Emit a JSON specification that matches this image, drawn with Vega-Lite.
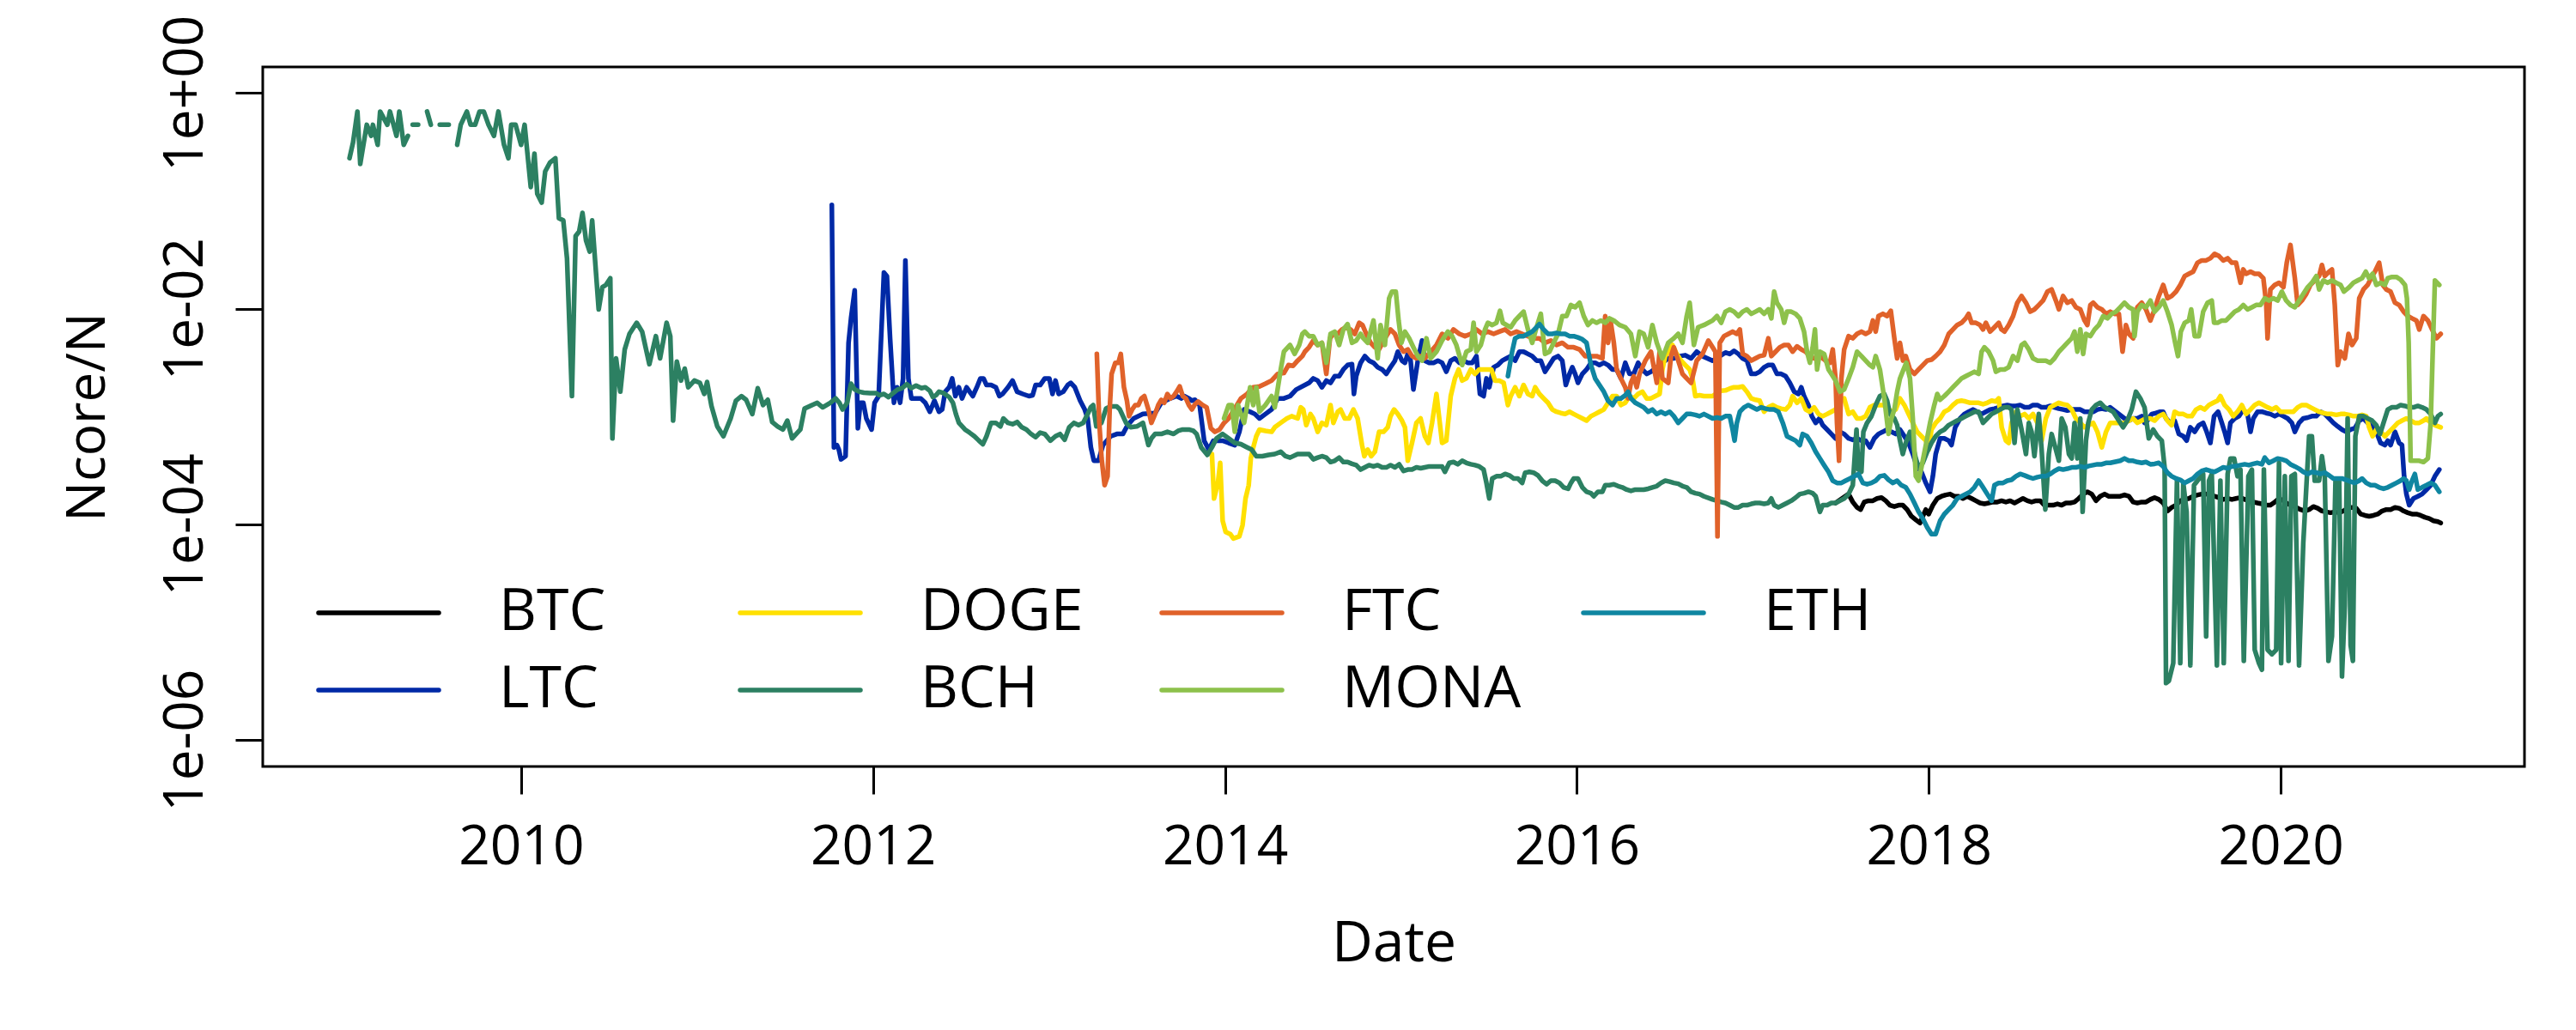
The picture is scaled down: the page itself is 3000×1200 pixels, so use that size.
{
"$schema":"https://vega.github.io/schema/vega-lite/v6.json",
"width":2634,"height":815,
"autosize":{"type":"none"},
"padding":{"left":306,"top":78,"right":60,"bottom":307},
"background":"white",
"config":{
"view":{"stroke":"black","strokeWidth":3},
"font":"Open Sans",
"axis":{"grid":false,"domain":false,"ticks":true,"tickColor":"black","tickWidth":3,"tickSize":32,"labelColor":"black","labelFont":"Open Sans","labelFontSize":64,"labelLimit":0,"titleFont":"Open Sans","titleFontSize":66,"titleFontWeight":"normal","titleColor":"black"}
},
"data":{"values":[
{"coin":"BTC","t":2017.470,"v":-3.802},{"coin":"BTC","t":2017.544,"v":-3.719},{"coin":"BTC","t":2017.568,"v":-3.793},{"coin":"BTC","t":2017.592,"v":-3.843},{"coin":"BTC","t":2017.612,"v":-3.863},{"coin":"BTC","t":2017.633,"v":-3.793},{"coin":"BTC","t":2017.657,"v":-3.781},{"coin":"BTC","t":2017.682,"v":-3.781},{"coin":"BTC","t":2017.706,"v":-3.760},{"coin":"BTC","t":2017.731,"v":-3.752},{"coin":"BTC","t":2017.755,"v":-3.781},{"coin":"BTC","t":2017.779,"v":-3.822},{"coin":"BTC","t":2017.804,"v":-3.835},{"coin":"BTC","t":2017.828,"v":-3.822},{"coin":"BTC","t":2017.852,"v":-3.822},{"coin":"BTC","t":2017.877,"v":-3.863},{"coin":"BTC","t":2017.901,"v":-3.925},{"coin":"BTC","t":2017.926,"v":-3.958},{"coin":"BTC","t":2017.950,"v":-3.987},{"coin":"BTC","t":2017.966,"v":-3.925},{"coin":"BTC","t":2017.983,"v":-3.863},{"coin":"BTC","t":2017.999,"v":-3.905},{"coin":"BTC","t":2018.023,"v":-3.822},{"coin":"BTC","t":2018.048,"v":-3.760},{"coin":"BTC","t":2018.072,"v":-3.740},{"coin":"BTC","t":2018.096,"v":-3.727},{"coin":"BTC","t":2018.121,"v":-3.719},{"coin":"BTC","t":2018.145,"v":-3.740},{"coin":"BTC","t":2018.170,"v":-3.740},{"coin":"BTC","t":2018.194,"v":-3.760},{"coin":"BTC","t":2018.218,"v":-3.740},{"coin":"BTC","t":2018.243,"v":-3.760},{"coin":"BTC","t":2018.267,"v":-3.781},{"coin":"BTC","t":2018.291,"v":-3.802},{"coin":"BTC","t":2018.316,"v":-3.810},{"coin":"BTC","t":2018.340,"v":-3.802},{"coin":"BTC","t":2018.365,"v":-3.793},{"coin":"BTC","t":2018.389,"v":-3.793},{"coin":"BTC","t":2018.413,"v":-3.781},{"coin":"BTC","t":2018.438,"v":-3.793},{"coin":"BTC","t":2018.462,"v":-3.781},{"coin":"BTC","t":2018.487,"v":-3.802},{"coin":"BTC","t":2018.511,"v":-3.781},{"coin":"BTC","t":2018.535,"v":-3.760},{"coin":"BTC","t":2018.560,"v":-3.781},{"coin":"BTC","t":2018.584,"v":-3.793},{"coin":"BTC","t":2018.609,"v":-3.781},{"coin":"BTC","t":2018.633,"v":-3.781},{"coin":"BTC","t":2018.657,"v":-3.822},{"coin":"BTC","t":2018.682,"v":-3.822},{"coin":"BTC","t":2018.706,"v":-3.822},{"coin":"BTC","t":2018.731,"v":-3.810},{"coin":"BTC","t":2018.755,"v":-3.822},{"coin":"BTC","t":2018.779,"v":-3.802},{"coin":"BTC","t":2018.804,"v":-3.802},{"coin":"BTC","t":2018.828,"v":-3.793},{"coin":"BTC","t":2018.852,"v":-3.760},{"coin":"BTC","t":2018.877,"v":-3.719},{"coin":"BTC","t":2018.901,"v":-3.698},{"coin":"BTC","t":2018.926,"v":-3.719},{"coin":"BTC","t":2018.950,"v":-3.781},{"coin":"BTC","t":2018.974,"v":-3.740},{"coin":"BTC","t":2018.999,"v":-3.719},{"coin":"BTC","t":2019.023,"v":-3.740},{"coin":"BTC","t":2019.088,"v":-3.740},{"coin":"BTC","t":2019.112,"v":-3.727},{"coin":"BTC","t":2019.137,"v":-3.740},{"coin":"BTC","t":2019.161,"v":-3.793},{"coin":"BTC","t":2019.185,"v":-3.802},{"coin":"BTC","t":2019.210,"v":-3.793},{"coin":"BTC","t":2019.234,"v":-3.793},{"coin":"BTC","t":2019.259,"v":-3.769},{"coin":"BTC","t":2019.283,"v":-3.752},{"coin":"BTC","t":2019.307,"v":-3.769},{"coin":"BTC","t":2019.332,"v":-3.802},{"coin":"BTC","t":2019.356,"v":-3.876},{"coin":"BTC","t":2019.380,"v":-3.843},{"coin":"BTC","t":2019.405,"v":-3.822},{"coin":"BTC","t":2019.429,"v":-3.781},{"coin":"BTC","t":2019.454,"v":-3.769},{"coin":"BTC","t":2019.478,"v":-3.760},{"coin":"BTC","t":2019.502,"v":-3.740},{"coin":"BTC","t":2019.527,"v":-3.727},{"coin":"BTC","t":2019.551,"v":-3.719},{"coin":"BTC","t":2019.576,"v":-3.719},{"coin":"BTC","t":2019.600,"v":-3.727},{"coin":"BTC","t":2019.624,"v":-3.740},{"coin":"BTC","t":2019.649,"v":-3.752},{"coin":"BTC","t":2019.673,"v":-3.769},{"coin":"BTC","t":2019.698,"v":-3.760},{"coin":"BTC","t":2019.722,"v":-3.769},{"coin":"BTC","t":2019.746,"v":-3.760},{"coin":"BTC","t":2019.771,"v":-3.752},{"coin":"BTC","t":2019.795,"v":-3.769},{"coin":"BTC","t":2019.819,"v":-3.781},{"coin":"BTC","t":2019.844,"v":-3.793},{"coin":"BTC","t":2019.868,"v":-3.802},{"coin":"BTC","t":2019.893,"v":-3.810},{"coin":"BTC","t":2019.917,"v":-3.822},{"coin":"BTC","t":2019.941,"v":-3.822},{"coin":"BTC","t":2019.966,"v":-3.793},{"coin":"BTC","t":2019.990,"v":-3.760},{"coin":"BTC","t":2020.015,"v":-3.781},{"coin":"BTC","t":2020.039,"v":-3.810},{"coin":"BTC","t":2020.063,"v":-3.822},{"coin":"BTC","t":2020.088,"v":-3.843},{"coin":"BTC","t":2020.112,"v":-3.863},{"coin":"BTC","t":2020.137,"v":-3.876},{"coin":"BTC","t":2020.161,"v":-3.863},{"coin":"BTC","t":2020.185,"v":-3.835},{"coin":"BTC","t":2020.210,"v":-3.851},{"coin":"BTC","t":2020.234,"v":-3.876},{"coin":"BTC","t":2020.259,"v":-3.884},{"coin":"BTC","t":2020.283,"v":-3.892},{"coin":"BTC","t":2020.307,"v":-3.884},{"coin":"BTC","t":2020.332,"v":-3.892},{"coin":"BTC","t":2020.356,"v":-3.876},{"coin":"BTC","t":2020.380,"v":-3.851},{"coin":"BTC","t":2020.405,"v":-3.843},{"coin":"BTC","t":2020.429,"v":-3.851},{"coin":"BTC","t":2020.454,"v":-3.905},{"coin":"BTC","t":2020.478,"v":-3.917},{"coin":"BTC","t":2020.502,"v":-3.925},{"coin":"BTC","t":2020.527,"v":-3.917},{"coin":"BTC","t":2020.551,"v":-3.905},{"coin":"BTC","t":2020.576,"v":-3.876},{"coin":"BTC","t":2020.600,"v":-3.863},{"coin":"BTC","t":2020.624,"v":-3.863},{"coin":"BTC","t":2020.649,"v":-3.843},{"coin":"BTC","t":2020.673,"v":-3.851},{"coin":"BTC","t":2020.698,"v":-3.876},{"coin":"BTC","t":2020.722,"v":-3.892},{"coin":"BTC","t":2020.746,"v":-3.905},{"coin":"BTC","t":2020.771,"v":-3.905},{"coin":"BTC","t":2020.795,"v":-3.917},{"coin":"BTC","t":2020.819,"v":-3.934},{"coin":"BTC","t":2020.844,"v":-3.946},{"coin":"BTC","t":2020.868,"v":-3.967},{"coin":"BTC","t":2020.893,"v":-3.975},{"coin":"BTC","t":2020.909,"v":-3.987},
{"coin":"LTC","t":2011.766,"v":-1.038},{"coin":"LTC","t":2011.778,"v":-3.286},{"coin":"LTC","t":2011.795,"v":-3.265},{"coin":"LTC","t":2011.806,"v":-3.307},{"coin":"LTC","t":2011.818,"v":-3.397},{"coin":"LTC","t":2011.844,"v":-3.368},{"coin":"LTC","t":2011.861,"v":-2.317},{"coin":"LTC","t":2011.875,"v":-2.090},{"coin":"LTC","t":2011.896,"v":-1.830},{"coin":"LTC","t":2011.914,"v":-3.109},{"coin":"LTC","t":2011.928,"v":-2.873},{"coin":"LTC","t":2011.945,"v":-2.873},{"coin":"LTC","t":2011.962,"v":-3.018},{"coin":"LTC","t":2011.992,"v":-3.121},{"coin":"LTC","t":2012.009,"v":-2.873},{"coin":"LTC","t":2012.032,"v":-2.811},{"coin":"LTC","t":2012.062,"v":-1.665},{"coin":"LTC","t":2012.079,"v":-1.698},{"coin":"LTC","t":2012.097,"v":-2.275},{"coin":"LTC","t":2012.119,"v":-2.873},{"coin":"LTC","t":2012.137,"v":-2.729},{"coin":"LTC","t":2012.154,"v":-2.873},{"coin":"LTC","t":2012.171,"v":-2.647},{"coin":"LTC","t":2012.184,"v":-1.553},{"coin":"LTC","t":2012.201,"v":-2.647},{"coin":"LTC","t":2012.218,"v":-2.832},{"coin":"LTC","t":2012.245,"v":-2.832},{"coin":"LTC","t":2012.271,"v":-2.832},{"coin":"LTC","t":2012.297,"v":-2.873},{"coin":"LTC","t":2012.323,"v":-2.956},{"coin":"LTC","t":2012.349,"v":-2.853},{"coin":"LTC","t":2012.375,"v":-2.956},{"coin":"LTC","t":2012.393,"v":-2.935},{"coin":"LTC","t":2012.410,"v":-2.770},{"coin":"LTC","t":2012.433,"v":-2.729},{"coin":"LTC","t":2012.450,"v":-2.647},{"coin":"LTC","t":2012.468,"v":-2.811},{"coin":"LTC","t":2012.488,"v":-2.729},{"coin":"LTC","t":2012.506,"v":-2.832},{"coin":"LTC","t":2012.532,"v":-2.729},{"coin":"LTC","t":2012.549,"v":-2.770},{"coin":"LTC","t":2012.567,"v":-2.811},{"coin":"LTC","t":2012.590,"v":-2.729},{"coin":"LTC","t":2012.610,"v":-2.647},{"coin":"LTC","t":2012.628,"v":-2.647},{"coin":"LTC","t":2012.645,"v":-2.708},{"coin":"LTC","t":2012.671,"v":-2.708},{"coin":"LTC","t":2012.698,"v":-2.729},{"coin":"LTC","t":2012.718,"v":-2.811},{"coin":"LTC","t":2012.736,"v":-2.791},{"coin":"LTC","t":2012.767,"v":-2.729},{"coin":"LTC","t":2012.793,"v":-2.667},{"coin":"LTC","t":2012.819,"v":-2.770},{"coin":"LTC","t":2012.851,"v":-2.791},{"coin":"LTC","t":2012.886,"v":-2.811},{"coin":"LTC","t":2012.907,"v":-2.803},{"coin":"LTC","t":2012.924,"v":-2.708},{"coin":"LTC","t":2012.950,"v":-2.708},{"coin":"LTC","t":2012.976,"v":-2.647},{"coin":"LTC","t":2013.002,"v":-2.647},{"coin":"LTC","t":2013.020,"v":-2.791},{"coin":"LTC","t":2013.037,"v":-2.667},{"coin":"LTC","t":2013.055,"v":-2.791},{"coin":"LTC","t":2013.081,"v":-2.770},{"coin":"LTC","t":2013.107,"v":-2.708},{"coin":"LTC","t":2013.124,"v":-2.688},{"coin":"LTC","t":2013.147,"v":-2.729},{"coin":"LTC","t":2013.177,"v":-2.853},{"coin":"LTC","t":2013.203,"v":-2.935},{"coin":"LTC","t":2013.220,"v":-3.018},{"coin":"LTC","t":2013.238,"v":-3.286},{"coin":"LTC","t":2013.255,"v":-3.410},{"coin":"LTC","t":2013.281,"v":-3.410},{"coin":"LTC","t":2013.307,"v":-3.265},{"coin":"LTC","t":2013.351,"v":-3.183},{"coin":"LTC","t":2013.386,"v":-3.162},{"coin":"LTC","t":2013.420,"v":-3.162},{"coin":"LTC","t":2013.447,"v":-3.080},{"coin":"LTC","t":2013.481,"v":-3.018},{"coin":"LTC","t":2013.534,"v":-2.977},{"coin":"LTC","t":2013.603,"v":-2.968},{"coin":"LTC","t":2013.638,"v":-2.873},{"coin":"LTC","t":2013.690,"v":-2.832},{"coin":"LTC","t":2013.725,"v":-2.811},{"coin":"LTC","t":2013.751,"v":-2.832},{"coin":"LTC","t":2013.769,"v":-2.811},{"coin":"LTC","t":2013.795,"v":-2.832},{"coin":"LTC","t":2013.812,"v":-2.853},{"coin":"LTC","t":2013.830,"v":-2.845},{"coin":"LTC","t":2013.856,"v":-2.894},{"coin":"LTC","t":2013.882,"v":-3.224},{"coin":"LTC","t":2013.908,"v":-3.307},{"coin":"LTC","t":2013.934,"v":-3.224},{"coin":"LTC","t":2013.960,"v":-3.224},{"coin":"LTC","t":2013.987,"v":-3.224},{"coin":"LTC","t":2014.021,"v":-3.245},{"coin":"LTC","t":2014.056,"v":-3.265},{"coin":"LTC","t":2014.082,"v":-3.142},{"coin":"LTC","t":2014.109,"v":-2.935},{"coin":"LTC","t":2014.143,"v":-2.956},{"coin":"LTC","t":2014.170,"v":-2.977},{"coin":"LTC","t":2014.196,"v":-3.018},{"coin":"LTC","t":2014.230,"v":-2.977},{"coin":"LTC","t":2014.265,"v":-2.935},{"coin":"LTC","t":2014.300,"v":-2.832},{"coin":"LTC","t":2014.335,"v":-2.832},{"coin":"LTC","t":2014.370,"v":-2.811},{"coin":"LTC","t":2014.405,"v":-2.750},{"coin":"LTC","t":2014.478,"v":-2.688},{"coin":"LTC","t":2014.502,"v":-2.647},{"coin":"LTC","t":2014.527,"v":-2.667},{"coin":"LTC","t":2014.551,"v":-2.729},{"coin":"LTC","t":2014.576,"v":-2.667},{"coin":"LTC","t":2014.600,"v":-2.688},{"coin":"LTC","t":2014.624,"v":-2.626},{"coin":"LTC","t":2014.649,"v":-2.626},{"coin":"LTC","t":2014.673,"v":-2.564},{"coin":"LTC","t":2014.697,"v":-2.523},{"coin":"LTC","t":2014.722,"v":-2.515},{"coin":"LTC","t":2014.733,"v":-2.791},{"coin":"LTC","t":2014.746,"v":-2.626},{"coin":"LTC","t":2014.771,"v":-2.502},{"coin":"LTC","t":2014.795,"v":-2.440},{"coin":"LTC","t":2014.819,"v":-2.482},{"coin":"LTC","t":2014.844,"v":-2.502},{"coin":"LTC","t":2014.868,"v":-2.543},{"coin":"LTC","t":2014.893,"v":-2.564},{"coin":"LTC","t":2014.917,"v":-2.605},{"coin":"LTC","t":2014.941,"v":-2.543},{"coin":"LTC","t":2014.966,"v":-2.482},{"coin":"LTC","t":2014.982,"v":-2.399},{"coin":"LTC","t":2015.006,"v":-2.482},{"coin":"LTC","t":2015.023,"v":-2.502},{"coin":"LTC","t":2015.039,"v":-2.420},{"coin":"LTC","t":2015.055,"v":-2.482},{"coin":"LTC","t":2015.071,"v":-2.750},{"coin":"LTC","t":2015.096,"v":-2.482},{"coin":"LTC","t":2015.120,"v":-2.296},{"coin":"LTC","t":2015.136,"v":-2.482},{"coin":"LTC","t":2015.161,"v":-2.502},{"coin":"LTC","t":2015.185,"v":-2.502},{"coin":"LTC","t":2015.210,"v":-2.482},{"coin":"LTC","t":2015.234,"v":-2.502},{"coin":"LTC","t":2015.258,"v":-2.585},{"coin":"LTC","t":2015.283,"v":-2.482},{"coin":"LTC","t":2015.307,"v":-2.461},{"coin":"LTC","t":2015.332,"v":-2.502},{"coin":"LTC","t":2015.356,"v":-2.482},{"coin":"LTC","t":2015.380,"v":-2.502},{"coin":"LTC","t":2015.405,"v":-2.502},{"coin":"LTC","t":2015.429,"v":-2.440},{"coin":"LTC","t":2015.449,"v":-2.791},{"coin":"LTC","t":2015.470,"v":-2.811},{"coin":"LTC","t":2015.486,"v":-2.647},{"coin":"LTC","t":2015.502,"v":-2.729},{"coin":"LTC","t":2015.527,"v":-2.543},{"coin":"LTC","t":2015.551,"v":-2.523},{"coin":"LTC","t":2015.576,"v":-2.482},{"coin":"LTC","t":2015.600,"v":-2.461},{"coin":"LTC","t":2015.624,"v":-2.440},{"coin":"LTC","t":2015.649,"v":-2.482},{"coin":"LTC","t":2015.673,"v":-2.399},{"coin":"LTC","t":2015.697,"v":-2.399},{"coin":"LTC","t":2015.722,"v":-2.420},{"coin":"LTC","t":2015.746,"v":-2.440},{"coin":"LTC","t":2015.771,"v":-2.482},{"coin":"LTC","t":2015.795,"v":-2.482},{"coin":"LTC","t":2015.819,"v":-2.585},{"coin":"LTC","t":2015.844,"v":-2.523},{"coin":"LTC","t":2015.868,"v":-2.461},{"coin":"LTC","t":2015.893,"v":-2.440},{"coin":"LTC","t":2015.917,"v":-2.482},{"coin":"LTC","t":2015.937,"v":-2.708},{"coin":"LTC","t":2015.958,"v":-2.605},{"coin":"LTC","t":2015.974,"v":-2.543},{"coin":"LTC","t":2015.990,"v":-2.605},{"coin":"LTC","t":2016.006,"v":-2.688},{"coin":"LTC","t":2016.031,"v":-2.605},{"coin":"LTC","t":2016.055,"v":-2.564},{"coin":"LTC","t":2016.080,"v":-2.502},{"coin":"LTC","t":2016.104,"v":-2.502},{"coin":"LTC","t":2016.128,"v":-2.523},{"coin":"LTC","t":2016.153,"v":-2.502},{"coin":"LTC","t":2016.177,"v":-2.523},{"coin":"LTC","t":2016.202,"v":-2.564},{"coin":"LTC","t":2016.226,"v":-2.564},{"coin":"LTC","t":2016.250,"v":-2.647},{"coin":"LTC","t":2016.275,"v":-2.502},{"coin":"LTC","t":2016.299,"v":-2.605},{"coin":"LTC","t":2016.323,"v":-2.605},{"coin":"LTC","t":2016.348,"v":-2.502},{"coin":"LTC","t":2016.372,"v":-2.564},{"coin":"LTC","t":2016.397,"v":-2.605},{"coin":"LTC","t":2016.421,"v":-2.585},{"coin":"LTC","t":2016.454,"v":-2.543},{"coin":"LTC","t":2016.486,"v":-2.502},{"coin":"LTC","t":2016.519,"v":-2.461},{"coin":"LTC","t":2016.551,"v":-2.461},{"coin":"LTC","t":2016.584,"v":-2.440},{"coin":"LTC","t":2016.616,"v":-2.432},{"coin":"LTC","t":2016.649,"v":-2.461},{"coin":"LTC","t":2016.681,"v":-2.399},{"coin":"LTC","t":2016.714,"v":-2.440},{"coin":"LTC","t":2016.771,"v":-2.482},{"coin":"LTC","t":2016.796,"v":-2.461},{"coin":"LTC","t":2016.820,"v":-2.432},{"coin":"LTC","t":2016.844,"v":-2.407},{"coin":"LTC","t":2016.869,"v":-2.420},{"coin":"LTC","t":2016.893,"v":-2.391},{"coin":"LTC","t":2016.918,"v":-2.420},{"coin":"LTC","t":2016.942,"v":-2.461},{"coin":"LTC","t":2016.966,"v":-2.482},{"coin":"LTC","t":2016.991,"v":-2.605},{"coin":"LTC","t":2017.015,"v":-2.605},{"coin":"LTC","t":2017.039,"v":-2.585},{"coin":"LTC","t":2017.064,"v":-2.543},{"coin":"LTC","t":2017.088,"v":-2.523},{"coin":"LTC","t":2017.113,"v":-2.523},{"coin":"LTC","t":2017.137,"v":-2.605},{"coin":"LTC","t":2017.161,"v":-2.605},{"coin":"LTC","t":2017.186,"v":-2.626},{"coin":"LTC","t":2017.210,"v":-2.688},{"coin":"LTC","t":2017.235,"v":-2.770},{"coin":"LTC","t":2017.259,"v":-2.791},{"coin":"LTC","t":2017.275,"v":-2.729},{"coin":"LTC","t":2017.291,"v":-2.811},{"coin":"LTC","t":2017.316,"v":-2.894},{"coin":"LTC","t":2017.335,"v":-2.997},{"coin":"LTC","t":2017.357,"v":-3.059},{"coin":"LTC","t":2017.378,"v":-3.018},{"coin":"LTC","t":2017.397,"v":-3.080},{"coin":"LTC","t":2017.422,"v":-3.121},{"coin":"LTC","t":2017.446,"v":-3.162},{"coin":"LTC","t":2017.470,"v":-3.203},{"coin":"LTC","t":2017.495,"v":-3.142},{"coin":"LTC","t":2017.519,"v":-3.162},{"coin":"LTC","t":2017.544,"v":-3.203},{"coin":"LTC","t":2017.568,"v":-3.216},{"coin":"LTC","t":2017.592,"v":-3.203},{"coin":"LTC","t":2017.617,"v":-3.224},{"coin":"LTC","t":2017.641,"v":-3.224},{"coin":"LTC","t":2017.665,"v":-3.286},{"coin":"LTC","t":2017.690,"v":-3.203},{"coin":"LTC","t":2017.714,"v":-3.162},{"coin":"LTC","t":2017.739,"v":-3.142},{"coin":"LTC","t":2017.763,"v":-3.121},{"coin":"LTC","t":2017.787,"v":-3.142},{"coin":"LTC","t":2017.812,"v":-3.162},{"coin":"LTC","t":2017.836,"v":-3.121},{"coin":"LTC","t":2017.861,"v":-3.183},{"coin":"LTC","t":2017.885,"v":-3.245},{"coin":"LTC","t":2017.909,"v":-3.348},{"coin":"LTC","t":2017.934,"v":-3.472},{"coin":"LTC","t":2017.958,"v":-3.513},{"coin":"LTC","t":2017.983,"v":-3.616},{"coin":"LTC","t":2018.007,"v":-3.698},{"coin":"LTC","t":2018.023,"v":-3.554},{"coin":"LTC","t":2018.039,"v":-3.348},{"coin":"LTC","t":2018.064,"v":-3.203},{"coin":"LTC","t":2018.088,"v":-3.203},{"coin":"LTC","t":2018.113,"v":-3.224},{"coin":"LTC","t":2018.129,"v":-3.265},{"coin":"LTC","t":2018.150,"v":-3.100},{"coin":"LTC","t":2018.178,"v":-3.018},{"coin":"LTC","t":2018.202,"v":-2.977},{"coin":"LTC","t":2018.226,"v":-2.956},{"coin":"LTC","t":2018.251,"v":-2.935},{"coin":"LTC","t":2018.275,"v":-2.956},{"coin":"LTC","t":2018.300,"v":-2.977},{"coin":"LTC","t":2018.324,"v":-2.956},{"coin":"LTC","t":2018.348,"v":-2.935},{"coin":"LTC","t":2018.373,"v":-2.927},{"coin":"LTC","t":2018.397,"v":-2.915},{"coin":"LTC","t":2018.422,"v":-2.902},{"coin":"LTC","t":2018.446,"v":-2.894},{"coin":"LTC","t":2018.470,"v":-2.902},{"coin":"LTC","t":2018.495,"v":-2.902},{"coin":"LTC","t":2018.519,"v":-2.894},{"coin":"LTC","t":2018.544,"v":-2.915},{"coin":"LTC","t":2018.568,"v":-2.915},{"coin":"LTC","t":2018.592,"v":-2.894},{"coin":"LTC","t":2018.617,"v":-2.894},{"coin":"LTC","t":2018.641,"v":-2.915},{"coin":"LTC","t":2018.665,"v":-2.915},{"coin":"LTC","t":2018.690,"v":-2.902},{"coin":"LTC","t":2018.714,"v":-2.915},{"coin":"LTC","t":2018.739,"v":-2.927},{"coin":"LTC","t":2018.763,"v":-2.935},{"coin":"LTC","t":2018.787,"v":-2.944},{"coin":"LTC","t":2018.812,"v":-2.935},{"coin":"LTC","t":2018.836,"v":-2.935},{"coin":"LTC","t":2018.861,"v":-2.935},{"coin":"LTC","t":2018.885,"v":-2.956},{"coin":"LTC","t":2018.909,"v":-2.956},{"coin":"LTC","t":2018.934,"v":-2.956},{"coin":"LTC","t":2018.958,"v":-2.935},{"coin":"LTC","t":2018.983,"v":-2.927},{"coin":"LTC","t":2019.007,"v":-2.935},{"coin":"LTC","t":2019.031,"v":-2.915},{"coin":"LTC","t":2019.112,"v":-3.018},{"coin":"LTC","t":2019.137,"v":-3.038},{"coin":"LTC","t":2019.161,"v":-3.018},{"coin":"LTC","t":2019.185,"v":-3.018},{"coin":"LTC","t":2019.210,"v":-2.997},{"coin":"LTC","t":2019.226,"v":-3.059},{"coin":"LTC","t":2019.242,"v":-3.038},{"coin":"LTC","t":2019.267,"v":-2.977},{"coin":"LTC","t":2019.291,"v":-2.968},{"coin":"LTC","t":2019.315,"v":-2.956},{"coin":"LTC","t":2019.332,"v":-2.956},{"coin":"LTC","t":2019.348,"v":-3.018},{"coin":"LTC","t":2019.372,"v":-3.059},{"coin":"LTC","t":2019.397,"v":-3.038},{"coin":"LTC","t":2019.421,"v":-3.162},{"coin":"LTC","t":2019.446,"v":-3.183},{"coin":"LTC","t":2019.465,"v":-3.224},{"coin":"LTC","t":2019.486,"v":-3.100},{"coin":"LTC","t":2019.511,"v":-3.142},{"coin":"LTC","t":2019.535,"v":-3.080},{"coin":"LTC","t":2019.559,"v":-3.059},{"coin":"LTC","t":2019.579,"v":-3.142},{"coin":"LTC","t":2019.600,"v":-3.245},{"coin":"LTC","t":2019.621,"v":-2.997},{"coin":"LTC","t":2019.644,"v":-2.956},{"coin":"LTC","t":2019.665,"v":-3.059},{"coin":"LTC","t":2019.681,"v":-3.142},{"coin":"LTC","t":2019.698,"v":-3.245},{"coin":"LTC","t":2019.714,"v":-3.059},{"coin":"LTC","t":2019.738,"v":-3.018},{"coin":"LTC","t":2019.763,"v":-2.997},{"coin":"LTC","t":2019.787,"v":-2.935},{"coin":"LTC","t":2019.811,"v":-2.977},{"coin":"LTC","t":2019.828,"v":-3.142},{"coin":"LTC","t":2019.844,"v":-3.018},{"coin":"LTC","t":2019.868,"v":-2.956},{"coin":"LTC","t":2019.893,"v":-2.956},{"coin":"LTC","t":2019.917,"v":-2.968},{"coin":"LTC","t":2019.941,"v":-2.977},{"coin":"LTC","t":2019.966,"v":-2.997},{"coin":"LTC","t":2019.990,"v":-2.977},{"coin":"LTC","t":2020.015,"v":-2.997},{"coin":"LTC","t":2020.039,"v":-3.018},{"coin":"LTC","t":2020.063,"v":-3.059},{"coin":"LTC","t":2020.080,"v":-3.142},{"coin":"LTC","t":2020.104,"v":-3.059},{"coin":"LTC","t":2020.128,"v":-3.018},{"coin":"LTC","t":2020.153,"v":-3.010},{"coin":"LTC","t":2020.177,"v":-2.997},{"coin":"LTC","t":2020.202,"v":-2.997},{"coin":"LTC","t":2020.226,"v":-2.956},{"coin":"LTC","t":2020.250,"v":-2.977},{"coin":"LTC","t":2020.275,"v":-3.018},{"coin":"LTC","t":2020.299,"v":-3.059},{"coin":"LTC","t":2020.324,"v":-3.092},{"coin":"LTC","t":2020.348,"v":-3.121},{"coin":"LTC","t":2020.372,"v":-3.142},{"coin":"LTC","t":2020.397,"v":-3.121},{"coin":"LTC","t":2020.421,"v":-3.109},{"coin":"LTC","t":2020.446,"v":-3.038},{"coin":"LTC","t":2020.470,"v":-3.018},{"coin":"LTC","t":2020.494,"v":-3.059},{"coin":"LTC","t":2020.519,"v":-3.100},{"coin":"LTC","t":2020.543,"v":-3.142},{"coin":"LTC","t":2020.567,"v":-3.245},{"coin":"LTC","t":2020.592,"v":-3.265},{"coin":"LTC","t":2020.608,"v":-3.224},{"coin":"LTC","t":2020.624,"v":-3.265},{"coin":"LTC","t":2020.649,"v":-3.142},{"coin":"LTC","t":2020.673,"v":-3.245},{"coin":"LTC","t":2020.689,"v":-3.265},{"coin":"LTC","t":2020.701,"v":-3.554},{"coin":"LTC","t":2020.714,"v":-3.719},{"coin":"LTC","t":2020.730,"v":-3.822},{"coin":"LTC","t":2020.754,"v":-3.760},{"coin":"LTC","t":2020.779,"v":-3.740},{"coin":"LTC","t":2020.803,"v":-3.719},{"coin":"LTC","t":2020.828,"v":-3.678},{"coin":"LTC","t":2020.852,"v":-3.637},{"coin":"LTC","t":2020.876,"v":-3.554},{"coin":"LTC","t":2020.901,"v":-3.492},
{"coin":"DOGE","t":2013.926,"v":-3.348},{"coin":"DOGE","t":2013.938,"v":-3.760},{"coin":"DOGE","t":2013.960,"v":-3.616},{"coin":"DOGE","t":2013.973,"v":-3.430},{"coin":"DOGE","t":2013.987,"v":-3.967},{"coin":"DOGE","t":2014.004,"v":-4.070},{"coin":"DOGE","t":2014.030,"v":-4.090},{"coin":"DOGE","t":2014.048,"v":-4.131},{"coin":"DOGE","t":2014.082,"v":-4.111},{"coin":"DOGE","t":2014.100,"v":-4.008},{"coin":"DOGE","t":2014.117,"v":-3.760},{"coin":"DOGE","t":2014.135,"v":-3.637},{"coin":"DOGE","t":2014.147,"v":-3.389},{"coin":"DOGE","t":2014.161,"v":-3.286},{"coin":"DOGE","t":2014.178,"v":-3.183},{"coin":"DOGE","t":2014.196,"v":-3.121},{"coin":"DOGE","t":2014.230,"v":-3.133},{"coin":"DOGE","t":2014.265,"v":-3.142},{"coin":"DOGE","t":2014.283,"v":-3.100},{"coin":"DOGE","t":2014.317,"v":-3.059},{"coin":"DOGE","t":2014.352,"v":-3.018},{"coin":"DOGE","t":2014.379,"v":-2.997},{"coin":"DOGE","t":2014.413,"v":-3.018},{"coin":"DOGE","t":2014.431,"v":-2.915},{"coin":"DOGE","t":2014.445,"v":-2.935},{"coin":"DOGE","t":2014.462,"v":-3.080},{"coin":"DOGE","t":2014.486,"v":-2.977},{"coin":"DOGE","t":2014.502,"v":-3.018},{"coin":"DOGE","t":2014.527,"v":-3.142},{"coin":"DOGE","t":2014.551,"v":-3.059},{"coin":"DOGE","t":2014.576,"v":-3.080},{"coin":"DOGE","t":2014.600,"v":-2.894},{"coin":"DOGE","t":2014.616,"v":-3.059},{"coin":"DOGE","t":2014.641,"v":-2.956},{"coin":"DOGE","t":2014.657,"v":-2.935},{"coin":"DOGE","t":2014.681,"v":-3.018},{"coin":"DOGE","t":2014.706,"v":-3.018},{"coin":"DOGE","t":2014.730,"v":-2.935},{"coin":"DOGE","t":2014.754,"v":-3.018},{"coin":"DOGE","t":2014.779,"v":-3.265},{"coin":"DOGE","t":2014.792,"v":-3.368},{"coin":"DOGE","t":2014.811,"v":-3.307},{"coin":"DOGE","t":2014.831,"v":-3.368},{"coin":"DOGE","t":2014.852,"v":-3.327},{"coin":"DOGE","t":2014.876,"v":-3.142},{"coin":"DOGE","t":2014.901,"v":-3.142},{"coin":"DOGE","t":2014.925,"v":-3.100},{"coin":"DOGE","t":2014.941,"v":-2.997},{"coin":"DOGE","t":2014.961,"v":-2.935},{"coin":"DOGE","t":2014.982,"v":-2.977},{"coin":"DOGE","t":2015.006,"v":-3.038},{"coin":"DOGE","t":2015.023,"v":-3.100},{"coin":"DOGE","t":2015.039,"v":-3.410},{"coin":"DOGE","t":2015.063,"v":-3.245},{"coin":"DOGE","t":2015.088,"v":-3.059},{"coin":"DOGE","t":2015.112,"v":-3.018},{"coin":"DOGE","t":2015.136,"v":-3.183},{"coin":"DOGE","t":2015.156,"v":-3.245},{"coin":"DOGE","t":2015.177,"v":-3.059},{"coin":"DOGE","t":2015.202,"v":-2.791},{"coin":"DOGE","t":2015.218,"v":-3.018},{"coin":"DOGE","t":2015.234,"v":-3.245},{"coin":"DOGE","t":2015.258,"v":-3.224},{"coin":"DOGE","t":2015.283,"v":-2.811},{"coin":"DOGE","t":2015.307,"v":-2.647},{"coin":"DOGE","t":2015.328,"v":-2.564},{"coin":"DOGE","t":2015.348,"v":-2.667},{"coin":"DOGE","t":2015.372,"v":-2.647},{"coin":"DOGE","t":2015.397,"v":-2.564},{"coin":"DOGE","t":2015.421,"v":-2.605},{"coin":"DOGE","t":2015.445,"v":-2.564},{"coin":"DOGE","t":2015.470,"v":-2.564},{"coin":"DOGE","t":2015.494,"v":-2.564},{"coin":"DOGE","t":2015.514,"v":-2.564},{"coin":"DOGE","t":2015.535,"v":-2.667},{"coin":"DOGE","t":2015.559,"v":-2.667},{"coin":"DOGE","t":2015.584,"v":-2.688},{"coin":"DOGE","t":2015.608,"v":-2.894},{"coin":"DOGE","t":2015.624,"v":-2.811},{"coin":"DOGE","t":2015.649,"v":-2.729},{"coin":"DOGE","t":2015.673,"v":-2.811},{"coin":"DOGE","t":2015.697,"v":-2.708},{"coin":"DOGE","t":2015.722,"v":-2.791},{"coin":"DOGE","t":2015.746,"v":-2.811},{"coin":"DOGE","t":2015.763,"v":-2.729},{"coin":"DOGE","t":2015.787,"v":-2.791},{"coin":"DOGE","t":2015.811,"v":-2.832},{"coin":"DOGE","t":2015.836,"v":-2.873},{"coin":"DOGE","t":2015.860,"v":-2.935},{"coin":"DOGE","t":2015.884,"v":-2.956},{"coin":"DOGE","t":2015.909,"v":-2.968},{"coin":"DOGE","t":2015.933,"v":-2.977},{"coin":"DOGE","t":2015.958,"v":-2.956},{"coin":"DOGE","t":2015.982,"v":-2.977},{"coin":"DOGE","t":2016.006,"v":-2.997},{"coin":"DOGE","t":2016.031,"v":-3.018},{"coin":"DOGE","t":2016.055,"v":-3.038},{"coin":"DOGE","t":2016.080,"v":-2.997},{"coin":"DOGE","t":2016.104,"v":-2.977},{"coin":"DOGE","t":2016.128,"v":-2.956},{"coin":"DOGE","t":2016.153,"v":-2.935},{"coin":"DOGE","t":2016.177,"v":-2.873},{"coin":"DOGE","t":2016.202,"v":-2.811},{"coin":"DOGE","t":2016.226,"v":-2.811},{"coin":"DOGE","t":2016.250,"v":-2.894},{"coin":"DOGE","t":2016.275,"v":-2.873},{"coin":"DOGE","t":2016.299,"v":-2.811},{"coin":"DOGE","t":2016.323,"v":-2.832},{"coin":"DOGE","t":2016.348,"v":-2.791},{"coin":"DOGE","t":2016.372,"v":-2.770},{"coin":"DOGE","t":2016.397,"v":-2.832},{"coin":"DOGE","t":2016.421,"v":-2.832},{"coin":"DOGE","t":2016.446,"v":-2.811},{"coin":"DOGE","t":2016.470,"v":-2.791},{"coin":"DOGE","t":2016.486,"v":-2.564},{"coin":"DOGE","t":2016.502,"v":-2.440},{"coin":"DOGE","t":2016.519,"v":-2.399},{"coin":"DOGE","t":2016.543,"v":-2.337},{"coin":"DOGE","t":2016.567,"v":-2.420},{"coin":"DOGE","t":2016.592,"v":-2.482},{"coin":"DOGE","t":2016.616,"v":-2.523},{"coin":"DOGE","t":2016.641,"v":-2.564},{"coin":"DOGE","t":2016.657,"v":-2.647},{"coin":"DOGE","t":2016.673,"v":-2.811},{"coin":"DOGE","t":2016.697,"v":-2.803},{"coin":"DOGE","t":2016.722,"v":-2.811},{"coin":"DOGE","t":2016.771,"v":-2.811},{"coin":"DOGE","t":2016.796,"v":-2.783},{"coin":"DOGE","t":2016.820,"v":-2.762},{"coin":"DOGE","t":2016.844,"v":-2.758},{"coin":"DOGE","t":2016.869,"v":-2.741},{"coin":"DOGE","t":2016.893,"v":-2.729},{"coin":"DOGE","t":2016.918,"v":-2.729},{"coin":"DOGE","t":2016.942,"v":-2.721},{"coin":"DOGE","t":2016.966,"v":-2.770},{"coin":"DOGE","t":2016.991,"v":-2.832},{"coin":"DOGE","t":2017.015,"v":-2.845},{"coin":"DOGE","t":2017.039,"v":-2.853},{"coin":"DOGE","t":2017.064,"v":-2.956},{"coin":"DOGE","t":2017.088,"v":-2.915},{"coin":"DOGE","t":2017.113,"v":-2.894},{"coin":"DOGE","t":2017.137,"v":-2.915},{"coin":"DOGE","t":2017.161,"v":-2.927},{"coin":"DOGE","t":2017.186,"v":-2.935},{"coin":"DOGE","t":2017.210,"v":-2.894},{"coin":"DOGE","t":2017.226,"v":-2.811},{"coin":"DOGE","t":2017.251,"v":-2.873},{"coin":"DOGE","t":2017.275,"v":-2.832},{"coin":"DOGE","t":2017.300,"v":-2.935},{"coin":"DOGE","t":2017.324,"v":-2.956},{"coin":"DOGE","t":2017.348,"v":-2.915},{"coin":"DOGE","t":2017.373,"v":-2.977},{"coin":"DOGE","t":2017.397,"v":-2.997},{"coin":"DOGE","t":2017.422,"v":-2.977},{"coin":"DOGE","t":2017.446,"v":-2.956},{"coin":"DOGE","t":2017.470,"v":-2.935},{"coin":"DOGE","t":2017.495,"v":-2.853},{"coin":"DOGE","t":2017.519,"v":-2.832},{"coin":"DOGE","t":2017.544,"v":-2.977},{"coin":"DOGE","t":2017.568,"v":-2.956},{"coin":"DOGE","t":2017.592,"v":-3.018},{"coin":"DOGE","t":2017.617,"v":-3.018},{"coin":"DOGE","t":2017.641,"v":-2.997},{"coin":"DOGE","t":2017.665,"v":-2.915},{"coin":"DOGE","t":2017.690,"v":-2.894},{"coin":"DOGE","t":2017.714,"v":-2.894},{"coin":"DOGE","t":2017.739,"v":-2.894},{"coin":"DOGE","t":2017.763,"v":-2.915},{"coin":"DOGE","t":2017.787,"v":-2.956},{"coin":"DOGE","t":2017.812,"v":-2.935},{"coin":"DOGE","t":2017.836,"v":-2.832},{"coin":"DOGE","t":2017.861,"v":-2.894},{"coin":"DOGE","t":2017.885,"v":-2.977},{"coin":"DOGE","t":2017.909,"v":-3.059},{"coin":"DOGE","t":2017.934,"v":-3.142},{"coin":"DOGE","t":2017.958,"v":-3.183},{"coin":"DOGE","t":2017.983,"v":-3.224},{"coin":"DOGE","t":2017.999,"v":-3.307},{"coin":"DOGE","t":2018.015,"v":-3.121},{"coin":"DOGE","t":2018.039,"v":-3.059},{"coin":"DOGE","t":2018.064,"v":-3.018},{"coin":"DOGE","t":2018.088,"v":-2.956},{"coin":"DOGE","t":2018.113,"v":-2.935},{"coin":"DOGE","t":2018.137,"v":-2.894},{"coin":"DOGE","t":2018.161,"v":-2.861},{"coin":"DOGE","t":2018.186,"v":-2.853},{"coin":"DOGE","t":2018.210,"v":-2.861},{"coin":"DOGE","t":2018.235,"v":-2.873},{"coin":"DOGE","t":2018.259,"v":-2.873},{"coin":"DOGE","t":2018.283,"v":-2.873},{"coin":"DOGE","t":2018.308,"v":-2.886},{"coin":"DOGE","t":2018.332,"v":-2.873},{"coin":"DOGE","t":2018.357,"v":-2.853},{"coin":"DOGE","t":2018.381,"v":-2.861},{"coin":"DOGE","t":2018.397,"v":-2.832},{"coin":"DOGE","t":2018.414,"v":-3.100},{"coin":"DOGE","t":2018.438,"v":-3.224},{"coin":"DOGE","t":2018.454,"v":-3.245},{"coin":"DOGE","t":2018.470,"v":-3.059},{"coin":"DOGE","t":2018.495,"v":-2.956},{"coin":"DOGE","t":2018.519,"v":-2.997},{"coin":"DOGE","t":2018.544,"v":-2.977},{"coin":"DOGE","t":2018.568,"v":-3.018},{"coin":"DOGE","t":2018.592,"v":-2.977},{"coin":"DOGE","t":2018.617,"v":-3.059},{"coin":"DOGE","t":2018.641,"v":-3.224},{"coin":"DOGE","t":2018.665,"v":-3.018},{"coin":"DOGE","t":2018.690,"v":-2.915},{"coin":"DOGE","t":2018.714,"v":-2.894},{"coin":"DOGE","t":2018.739,"v":-2.873},{"coin":"DOGE","t":2018.763,"v":-2.886},{"coin":"DOGE","t":2018.787,"v":-2.894},{"coin":"DOGE","t":2018.812,"v":-2.935},{"coin":"DOGE","t":2018.836,"v":-3.018},{"coin":"DOGE","t":2018.861,"v":-3.059},{"coin":"DOGE","t":2018.885,"v":-3.100},{"coin":"DOGE","t":2018.909,"v":-3.080},{"coin":"DOGE","t":2018.934,"v":-3.059},{"coin":"DOGE","t":2018.958,"v":-3.142},{"coin":"DOGE","t":2018.983,"v":-3.286},{"coin":"DOGE","t":2019.007,"v":-3.142},{"coin":"DOGE","t":2019.031,"v":-3.059},{"coin":"DOGE","t":2019.112,"v":-3.059},{"coin":"DOGE","t":2019.137,"v":-3.038},{"coin":"DOGE","t":2019.161,"v":-3.018},{"coin":"DOGE","t":2019.185,"v":-3.059},{"coin":"DOGE","t":2019.210,"v":-3.038},{"coin":"DOGE","t":2019.234,"v":-3.018},{"coin":"DOGE","t":2019.259,"v":-3.018},{"coin":"DOGE","t":2019.283,"v":-3.038},{"coin":"DOGE","t":2019.307,"v":-2.997},{"coin":"DOGE","t":2019.332,"v":-2.977},{"coin":"DOGE","t":2019.356,"v":-3.038},{"coin":"DOGE","t":2019.380,"v":-3.080},{"coin":"DOGE","t":2019.397,"v":-2.956},{"coin":"DOGE","t":2019.421,"v":-2.977},{"coin":"DOGE","t":2019.446,"v":-2.977},{"coin":"DOGE","t":2019.470,"v":-2.997},{"coin":"DOGE","t":2019.494,"v":-2.997},{"coin":"DOGE","t":2019.519,"v":-2.935},{"coin":"DOGE","t":2019.543,"v":-2.915},{"coin":"DOGE","t":2019.567,"v":-2.935},{"coin":"DOGE","t":2019.592,"v":-2.894},{"coin":"DOGE","t":2019.616,"v":-2.873},{"coin":"DOGE","t":2019.641,"v":-2.853},{"coin":"DOGE","t":2019.657,"v":-2.811},{"coin":"DOGE","t":2019.681,"v":-2.894},{"coin":"DOGE","t":2019.706,"v":-2.935},{"coin":"DOGE","t":2019.730,"v":-2.997},{"coin":"DOGE","t":2019.754,"v":-2.956},{"coin":"DOGE","t":2019.779,"v":-2.894},{"coin":"DOGE","t":2019.803,"v":-2.977},{"coin":"DOGE","t":2019.828,"v":-2.935},{"coin":"DOGE","t":2019.852,"v":-2.894},{"coin":"DOGE","t":2019.876,"v":-2.873},{"coin":"DOGE","t":2019.901,"v":-2.894},{"coin":"DOGE","t":2019.925,"v":-2.915},{"coin":"DOGE","t":2019.950,"v":-2.935},{"coin":"DOGE","t":2019.974,"v":-2.915},{"coin":"DOGE","t":2019.998,"v":-2.956},{"coin":"DOGE","t":2020.023,"v":-2.956},{"coin":"DOGE","t":2020.047,"v":-2.956},{"coin":"DOGE","t":2020.072,"v":-2.956},{"coin":"DOGE","t":2020.096,"v":-2.915},{"coin":"DOGE","t":2020.120,"v":-2.894},{"coin":"DOGE","t":2020.145,"v":-2.894},{"coin":"DOGE","t":2020.169,"v":-2.915},{"coin":"DOGE","t":2020.193,"v":-2.935},{"coin":"DOGE","t":2020.218,"v":-2.956},{"coin":"DOGE","t":2020.242,"v":-2.968},{"coin":"DOGE","t":2020.267,"v":-2.977},{"coin":"DOGE","t":2020.291,"v":-2.977},{"coin":"DOGE","t":2020.315,"v":-2.985},{"coin":"DOGE","t":2020.340,"v":-2.977},{"coin":"DOGE","t":2020.364,"v":-2.977},{"coin":"DOGE","t":2020.389,"v":-2.985},{"coin":"DOGE","t":2020.413,"v":-2.997},{"coin":"DOGE","t":2020.437,"v":-2.997},{"coin":"DOGE","t":2020.462,"v":-2.985},{"coin":"DOGE","t":2020.486,"v":-2.997},{"coin":"DOGE","t":2020.502,"v":-3.100},{"coin":"DOGE","t":2020.522,"v":-3.183},{"coin":"DOGE","t":2020.543,"v":-3.121},{"coin":"DOGE","t":2020.567,"v":-3.142},{"coin":"DOGE","t":2020.592,"v":-3.183},{"coin":"DOGE","t":2020.616,"v":-3.142},{"coin":"DOGE","t":2020.641,"v":-3.100},{"coin":"DOGE","t":2020.665,"v":-3.059},{"coin":"DOGE","t":2020.689,"v":-3.038},{"coin":"DOGE","t":2020.714,"v":-3.018},{"coin":"DOGE","t":2020.738,"v":-3.038},{"coin":"DOGE","t":2020.762,"v":-3.059},{"coin":"DOGE","t":2020.787,"v":-3.059},{"coin":"DOGE","t":2020.811,"v":-3.038},{"coin":"DOGE","t":2020.828,"v":-3.018},{"coin":"DOGE","t":2020.852,"v":-3.059},{"coin":"DOGE","t":2020.876,"v":-3.080},{"coin":"DOGE","t":2020.909,"v":-3.100},
{"coin":"BCH","t":2009.025,"v":-0.605},{"coin":"BCH","t":2009.045,"v":-0.460},{"coin":"BCH","t":2009.070,"v":-0.172},{"coin":"BCH","t":2009.086,"v":-0.658},{"coin":"BCH","t":2009.123,"v":-0.295},{"coin":"BCH","t":2009.148,"v":-0.398},{"coin":"BCH","t":2009.158,"v":-0.295},{"coin":"BCH","t":2009.185,"v":-0.481},{"coin":"BCH","t":2009.199,"v":-0.172},{"coin":"BCH","t":2009.240,"v":-0.295},{"coin":"BCH","t":2009.255,"v":-0.172},{"coin":"BCH","t":2009.292,"v":-0.398},{"coin":"BCH","t":2009.308,"v":-0.172},{"coin":"BCH","t":2009.333,"v":-0.481},{"coin":"BCH","t":2009.357,"v":-0.398},{"coin":"BCH","t":2009.370,"v":null},{"coin":"BCH","t":2009.384,"v":-0.295},{"coin":"BCH","t":2009.415,"v":-0.295},{"coin":"BCH","t":2009.440,"v":null},{"coin":"BCH","t":2009.466,"v":-0.172},{"coin":"BCH","t":2009.487,"v":-0.295},{"coin":"BCH","t":2009.510,"v":null},{"coin":"BCH","t":2009.538,"v":-0.295},{"coin":"BCH","t":2009.589,"v":-0.295},{"coin":"BCH","t":2009.610,"v":null},{"coin":"BCH","t":2009.637,"v":-0.481},{"coin":"BCH","t":2009.657,"v":-0.295},{"coin":"BCH","t":2009.692,"v":-0.172},{"coin":"BCH","t":2009.713,"v":-0.295},{"coin":"BCH","t":2009.739,"v":-0.295},{"coin":"BCH","t":2009.764,"v":-0.172},{"coin":"BCH","t":2009.788,"v":-0.172},{"coin":"BCH","t":2009.815,"v":-0.295},{"coin":"BCH","t":2009.846,"v":-0.398},{"coin":"BCH","t":2009.871,"v":-0.172},{"coin":"BCH","t":2009.903,"v":-0.481},{"coin":"BCH","t":2009.928,"v":-0.605},{"coin":"BCH","t":2009.944,"v":-0.295},{"coin":"BCH","t":2009.969,"v":-0.295},{"coin":"BCH","t":2010.000,"v":-0.481},{"coin":"BCH","t":2010.020,"v":-0.295},{"coin":"BCH","t":2010.055,"v":-0.873},{"coin":"BCH","t":2010.076,"v":-0.563},{"coin":"BCH","t":2010.092,"v":-0.935},{"coin":"BCH","t":2010.117,"v":-1.017},{"coin":"BCH","t":2010.137,"v":-0.728},{"coin":"BCH","t":2010.164,"v":-0.646},{"coin":"BCH","t":2010.195,"v":-0.605},{"coin":"BCH","t":2010.215,"v":-1.162},{"coin":"BCH","t":2010.240,"v":-1.182},{"coin":"BCH","t":2010.261,"v":-1.533},{"coin":"BCH","t":2010.289,"v":-2.810},{"coin":"BCH","t":2010.310,"v":-1.327},{"coin":"BCH","t":2010.330,"v":-1.285},{"coin":"BCH","t":2010.349,"v":-1.112},{"coin":"BCH","t":2010.369,"v":-1.368},{"coin":"BCH","t":2010.390,"v":-1.471},{"coin":"BCH","t":2010.404,"v":-1.182},{"coin":"BCH","t":2010.441,"v":-2.007},{"coin":"BCH","t":2010.462,"v":-1.801},{"coin":"BCH","t":2010.482,"v":-1.780},{"coin":"BCH","t":2010.507,"v":-1.718},{"coin":"BCH","t":2010.519,"v":-3.203},{"coin":"BCH","t":2010.540,"v":-2.461},{"coin":"BCH","t":2010.564,"v":-2.770},{"coin":"BCH","t":2010.589,"v":-2.378},{"coin":"BCH","t":2010.616,"v":-2.234},{"coin":"BCH","t":2010.657,"v":-2.131},{"coin":"BCH","t":2010.688,"v":-2.213},{"coin":"BCH","t":2010.729,"v":-2.515},{"coin":"BCH","t":2010.766,"v":-2.255},{"coin":"BCH","t":2010.790,"v":-2.461},{"coin":"BCH","t":2010.827,"v":-2.131},{"coin":"BCH","t":2010.848,"v":-2.255},{"coin":"BCH","t":2010.864,"v":-3.038},{"coin":"BCH","t":2010.885,"v":-2.490},{"coin":"BCH","t":2010.909,"v":-2.667},{"coin":"BCH","t":2010.930,"v":-2.556},{"coin":"BCH","t":2010.950,"v":-2.729},{"coin":"BCH","t":2010.985,"v":-2.667},{"coin":"BCH","t":2011.016,"v":-2.688},{"coin":"BCH","t":2011.041,"v":-2.791},{"coin":"BCH","t":2011.057,"v":-2.680},{"coin":"BCH","t":2011.082,"v":-2.902},{"coin":"BCH","t":2011.115,"v":-3.092},{"coin":"BCH","t":2011.150,"v":-3.183},{"coin":"BCH","t":2011.191,"v":-3.018},{"coin":"BCH","t":2011.221,"v":-2.853},{"coin":"BCH","t":2011.252,"v":-2.811},{"coin":"BCH","t":2011.279,"v":-2.845},{"coin":"BCH","t":2011.314,"v":-2.977},{"coin":"BCH","t":2011.345,"v":-2.737},{"coin":"BCH","t":2011.375,"v":-2.894},{"coin":"BCH","t":2011.402,"v":-2.845},{"coin":"BCH","t":2011.427,"v":-3.051},{"coin":"BCH","t":2011.458,"v":-3.092},{"coin":"BCH","t":2011.488,"v":-3.121},{"coin":"BCH","t":2011.513,"v":-3.038},{"coin":"BCH","t":2011.540,"v":-3.203},{"coin":"BCH","t":2011.587,"v":-3.121},{"coin":"BCH","t":2011.611,"v":-2.927},{"coin":"BCH","t":2011.653,"v":-2.894},{"coin":"BCH","t":2011.683,"v":-2.873},{"coin":"BCH","t":2011.714,"v":-2.915},{"coin":"BCH","t":2011.757,"v":-2.873},{"coin":"BCH","t":2011.788,"v":-2.832},{"coin":"BCH","t":2011.809,"v":-2.873},{"coin":"BCH","t":2011.827,"v":-2.935},{"coin":"BCH","t":2011.853,"v":-2.873},{"coin":"BCH","t":2011.875,"v":-2.696},{"coin":"BCH","t":2011.896,"v":-2.750},{"coin":"BCH","t":2011.922,"v":-2.770},{"coin":"BCH","t":2011.948,"v":-2.779},{"coin":"BCH","t":2011.983,"v":-2.783},{"coin":"BCH","t":2012.018,"v":-2.783},{"coin":"BCH","t":2012.036,"v":-2.803},{"coin":"BCH","t":2012.062,"v":-2.791},{"coin":"BCH","t":2012.088,"v":-2.820},{"coin":"BCH","t":2012.114,"v":-2.783},{"coin":"BCH","t":2012.140,"v":-2.750},{"coin":"BCH","t":2012.166,"v":-2.737},{"coin":"BCH","t":2012.192,"v":-2.700},{"coin":"BCH","t":2012.218,"v":-2.737},{"coin":"BCH","t":2012.245,"v":-2.713},{"coin":"BCH","t":2012.276,"v":-2.737},{"coin":"BCH","t":2012.297,"v":-2.729},{"coin":"BCH","t":2012.323,"v":-2.762},{"coin":"BCH","t":2012.340,"v":-2.820},{"coin":"BCH","t":2012.358,"v":-2.803},{"coin":"BCH","t":2012.375,"v":-2.770},{"coin":"BCH","t":2012.401,"v":-2.783},{"coin":"BCH","t":2012.433,"v":-2.820},{"coin":"BCH","t":2012.454,"v":-2.873},{"coin":"BCH","t":2012.471,"v":-2.977},{"coin":"BCH","t":2012.488,"v":-3.059},{"coin":"BCH","t":2012.523,"v":-3.121},{"coin":"BCH","t":2012.549,"v":-3.150},{"coin":"BCH","t":2012.576,"v":-3.183},{"coin":"BCH","t":2012.602,"v":-3.224},{"coin":"BCH","t":2012.624,"v":-3.257},{"coin":"BCH","t":2012.645,"v":-3.183},{"coin":"BCH","t":2012.671,"v":-3.059},{"coin":"BCH","t":2012.698,"v":-3.059},{"coin":"BCH","t":2012.724,"v":-3.092},{"coin":"BCH","t":2012.741,"v":-3.018},{"coin":"BCH","t":2012.767,"v":-3.059},{"coin":"BCH","t":2012.793,"v":-3.071},{"coin":"BCH","t":2012.819,"v":-3.051},{"coin":"BCH","t":2012.846,"v":-3.100},{"coin":"BCH","t":2012.872,"v":-3.121},{"coin":"BCH","t":2012.898,"v":-3.162},{"coin":"BCH","t":2012.924,"v":-3.191},{"coin":"BCH","t":2012.950,"v":-3.150},{"coin":"BCH","t":2012.976,"v":-3.162},{"coin":"BCH","t":2013.008,"v":-3.224},{"coin":"BCH","t":2013.037,"v":-3.183},{"coin":"BCH","t":2013.063,"v":-3.162},{"coin":"BCH","t":2013.089,"v":-3.216},{"coin":"BCH","t":2013.115,"v":-3.100},{"coin":"BCH","t":2013.142,"v":-3.059},{"coin":"BCH","t":2013.168,"v":-3.080},{"coin":"BCH","t":2013.194,"v":-3.059},{"coin":"BCH","t":2013.220,"v":-2.977},{"coin":"BCH","t":2013.237,"v":-2.915},{"coin":"BCH","t":2013.251,"v":-2.894},{"coin":"BCH","t":2013.269,"v":-3.092},{"coin":"BCH","t":2013.298,"v":-3.059},{"coin":"BCH","t":2013.324,"v":-2.927},{"coin":"BCH","t":2013.350,"v":-2.906},{"coin":"BCH","t":2013.385,"v":-2.906},{"coin":"BCH","t":2013.403,"v":-2.935},{"coin":"BCH","t":2013.438,"v":-3.059},{"coin":"BCH","t":2013.464,"v":-3.100},{"coin":"BCH","t":2013.499,"v":-3.092},{"coin":"BCH","t":2013.534,"v":-3.059},{"coin":"BCH","t":2013.565,"v":-3.265},{"coin":"BCH","t":2013.582,"v":-3.203},{"coin":"BCH","t":2013.603,"v":-3.162},{"coin":"BCH","t":2013.638,"v":-3.162},{"coin":"BCH","t":2013.673,"v":-3.142},{"coin":"BCH","t":2013.708,"v":-3.162},{"coin":"BCH","t":2013.734,"v":-3.133},{"coin":"BCH","t":2013.760,"v":-3.121},{"coin":"BCH","t":2013.795,"v":-3.121},{"coin":"BCH","t":2013.821,"v":-3.133},{"coin":"BCH","t":2013.839,"v":-3.162},{"coin":"BCH","t":2013.865,"v":-3.286},{"coin":"BCH","t":2013.900,"v":-3.356},{"coin":"BCH","t":2013.926,"v":-3.286},{"coin":"BCH","t":2013.952,"v":-3.203},{"coin":"BCH","t":2013.987,"v":-3.162},{"coin":"BCH","t":2014.021,"v":-3.203},{"coin":"BCH","t":2014.056,"v":-3.245},{"coin":"BCH","t":2014.091,"v":-3.257},{"coin":"BCH","t":2014.126,"v":-3.286},{"coin":"BCH","t":2014.152,"v":-3.307},{"coin":"BCH","t":2014.178,"v":-3.368},{"coin":"BCH","t":2014.213,"v":-3.368},{"coin":"BCH","t":2014.248,"v":-3.356},{"coin":"BCH","t":2014.283,"v":-3.348},{"coin":"BCH","t":2014.317,"v":-3.327},{"coin":"BCH","t":2014.344,"v":-3.368},{"coin":"BCH","t":2014.370,"v":-3.381},{"coin":"BCH","t":2014.413,"v":-3.348},{"coin":"BCH","t":2014.478,"v":-3.348},{"coin":"BCH","t":2014.502,"v":-3.397},{"coin":"BCH","t":2014.527,"v":-3.381},{"coin":"BCH","t":2014.551,"v":-3.368},{"coin":"BCH","t":2014.576,"v":-3.381},{"coin":"BCH","t":2014.600,"v":-3.422},{"coin":"BCH","t":2014.624,"v":-3.410},{"coin":"BCH","t":2014.649,"v":-3.381},{"coin":"BCH","t":2014.673,"v":-3.422},{"coin":"BCH","t":2014.697,"v":-3.422},{"coin":"BCH","t":2014.722,"v":-3.439},{"coin":"BCH","t":2014.746,"v":-3.451},{"coin":"BCH","t":2014.771,"v":-3.492},{"coin":"BCH","t":2014.795,"v":-3.472},{"coin":"BCH","t":2014.819,"v":-3.451},{"coin":"BCH","t":2014.844,"v":-3.463},{"coin":"BCH","t":2014.868,"v":-3.451},{"coin":"BCH","t":2014.893,"v":-3.472},{"coin":"BCH","t":2014.917,"v":-3.472},{"coin":"BCH","t":2014.941,"v":-3.451},{"coin":"BCH","t":2014.966,"v":-3.472},{"coin":"BCH","t":2014.990,"v":-3.443},{"coin":"BCH","t":2015.015,"v":-3.505},{"coin":"BCH","t":2015.039,"v":-3.492},{"coin":"BCH","t":2015.063,"v":-3.492},{"coin":"BCH","t":2015.088,"v":-3.472},{"coin":"BCH","t":2015.112,"v":-3.480},{"coin":"BCH","t":2015.136,"v":-3.472},{"coin":"BCH","t":2015.161,"v":-3.463},{"coin":"BCH","t":2015.185,"v":-3.463},{"coin":"BCH","t":2015.210,"v":-3.463},{"coin":"BCH","t":2015.234,"v":-3.463},{"coin":"BCH","t":2015.250,"v":-3.513},{"coin":"BCH","t":2015.275,"v":-3.430},{"coin":"BCH","t":2015.299,"v":-3.422},{"coin":"BCH","t":2015.323,"v":-3.443},{"coin":"BCH","t":2015.348,"v":-3.410},{"coin":"BCH","t":2015.372,"v":-3.430},{"coin":"BCH","t":2015.397,"v":-3.443},{"coin":"BCH","t":2015.421,"v":-3.451},{"coin":"BCH","t":2015.445,"v":-3.463},{"coin":"BCH","t":2015.470,"v":-3.492},{"coin":"BCH","t":2015.486,"v":-3.616},{"coin":"BCH","t":2015.502,"v":-3.760},{"coin":"BCH","t":2015.519,"v":-3.575},{"coin":"BCH","t":2015.543,"v":-3.554},{"coin":"BCH","t":2015.567,"v":-3.554},{"coin":"BCH","t":2015.592,"v":-3.533},{"coin":"BCH","t":2015.616,"v":-3.546},{"coin":"BCH","t":2015.641,"v":-3.575},{"coin":"BCH","t":2015.665,"v":-3.575},{"coin":"BCH","t":2015.689,"v":-3.616},{"coin":"BCH","t":2015.706,"v":-3.521},{"coin":"BCH","t":2015.730,"v":-3.513},{"coin":"BCH","t":2015.754,"v":-3.521},{"coin":"BCH","t":2015.779,"v":-3.546},{"coin":"BCH","t":2015.803,"v":-3.595},{"coin":"BCH","t":2015.828,"v":-3.628},{"coin":"BCH","t":2015.852,"v":-3.595},{"coin":"BCH","t":2015.876,"v":-3.595},{"coin":"BCH","t":2015.901,"v":-3.616},{"coin":"BCH","t":2015.925,"v":-3.657},{"coin":"BCH","t":2015.950,"v":-3.670},{"coin":"BCH","t":2015.966,"v":-3.616},{"coin":"BCH","t":2015.982,"v":-3.575},{"coin":"BCH","t":2016.006,"v":-3.575},{"coin":"BCH","t":2016.031,"v":-3.657},{"coin":"BCH","t":2016.055,"v":-3.698},{"coin":"BCH","t":2016.080,"v":-3.711},{"coin":"BCH","t":2016.096,"v":-3.740},{"coin":"BCH","t":2016.120,"v":-3.698},{"coin":"BCH","t":2016.145,"v":-3.698},{"coin":"BCH","t":2016.161,"v":-3.637},{"coin":"BCH","t":2016.185,"v":-3.637},{"coin":"BCH","t":2016.210,"v":-3.628},{"coin":"BCH","t":2016.234,"v":-3.645},{"coin":"BCH","t":2016.258,"v":-3.657},{"coin":"BCH","t":2016.283,"v":-3.678},{"coin":"BCH","t":2016.307,"v":-3.690},{"coin":"BCH","t":2016.332,"v":-3.678},{"coin":"BCH","t":2016.356,"v":-3.678},{"coin":"BCH","t":2016.380,"v":-3.678},{"coin":"BCH","t":2016.405,"v":-3.670},{"coin":"BCH","t":2016.429,"v":-3.657},{"coin":"BCH","t":2016.454,"v":-3.645},{"coin":"BCH","t":2016.478,"v":-3.616},{"coin":"BCH","t":2016.502,"v":-3.595},{"coin":"BCH","t":2016.527,"v":-3.604},{"coin":"BCH","t":2016.551,"v":-3.616},{"coin":"BCH","t":2016.576,"v":-3.624},{"coin":"BCH","t":2016.600,"v":-3.645},{"coin":"BCH","t":2016.624,"v":-3.657},{"coin":"BCH","t":2016.649,"v":-3.698},{"coin":"BCH","t":2016.673,"v":-3.711},{"coin":"BCH","t":2016.697,"v":-3.719},{"coin":"BCH","t":2016.722,"v":-3.740},{"coin":"BCH","t":2016.771,"v":-3.769},{"coin":"BCH","t":2016.796,"v":-3.781},{"coin":"BCH","t":2016.820,"v":-3.793},{"coin":"BCH","t":2016.844,"v":-3.802},{"coin":"BCH","t":2016.869,"v":-3.822},{"coin":"BCH","t":2016.893,"v":-3.843},{"coin":"BCH","t":2016.918,"v":-3.843},{"coin":"BCH","t":2016.942,"v":-3.822},{"coin":"BCH","t":2016.966,"v":-3.822},{"coin":"BCH","t":2016.991,"v":-3.810},{"coin":"BCH","t":2017.015,"v":-3.802},{"coin":"BCH","t":2017.039,"v":-3.802},{"coin":"BCH","t":2017.064,"v":-3.810},{"coin":"BCH","t":2017.088,"v":-3.802},{"coin":"BCH","t":2017.105,"v":-3.760},{"coin":"BCH","t":2017.121,"v":-3.822},{"coin":"BCH","t":2017.145,"v":-3.843},{"coin":"BCH","t":2017.170,"v":-3.822},{"coin":"BCH","t":2017.194,"v":-3.802},{"coin":"BCH","t":2017.218,"v":-3.781},{"coin":"BCH","t":2017.243,"v":-3.752},{"coin":"BCH","t":2017.267,"v":-3.719},{"coin":"BCH","t":2017.291,"v":-3.711},{"coin":"BCH","t":2017.316,"v":-3.698},{"coin":"BCH","t":2017.340,"v":-3.711},{"coin":"BCH","t":2017.357,"v":-3.740},{"coin":"BCH","t":2017.381,"v":-3.884},{"coin":"BCH","t":2017.397,"v":-3.822},{"coin":"BCH","t":2017.422,"v":-3.822},{"coin":"BCH","t":2017.446,"v":-3.802},{"coin":"BCH","t":2017.470,"v":-3.802},{"coin":"BCH","t":2017.495,"v":-3.781},{"coin":"BCH","t":2017.519,"v":-3.760},{"coin":"BCH","t":2017.544,"v":-3.719},{"coin":"BCH","t":2017.568,"v":-3.637},{"coin":"BCH","t":2017.589,"v":-3.121},{"coin":"BCH","t":2017.600,"v":-3.492},{"coin":"BCH","t":2017.617,"v":-3.513},{"coin":"BCH","t":2017.628,"v":-3.142},{"coin":"BCH","t":2017.649,"v":-3.059},{"coin":"BCH","t":2017.674,"v":-2.997},{"coin":"BCH","t":2017.698,"v":-2.894},{"coin":"BCH","t":2017.722,"v":-2.811},{"coin":"BCH","t":2017.747,"v":-2.791},{"coin":"BCH","t":2017.763,"v":-2.853},{"coin":"BCH","t":2017.779,"v":-2.977},{"coin":"BCH","t":2017.804,"v":-3.018},{"coin":"BCH","t":2017.820,"v":-3.080},{"coin":"BCH","t":2017.836,"v":-3.224},{"coin":"BCH","t":2017.852,"v":-3.348},{"coin":"BCH","t":2017.869,"v":-3.245},{"coin":"BCH","t":2017.893,"v":-3.142},{"coin":"BCH","t":2017.909,"v":-3.265},{"coin":"BCH","t":2017.926,"v":-3.389},{"coin":"BCH","t":2017.942,"v":-3.472},{"coin":"BCH","t":2017.966,"v":-3.430},{"coin":"BCH","t":2017.991,"v":-3.327},{"coin":"BCH","t":2018.015,"v":-3.245},{"coin":"BCH","t":2018.039,"v":-3.183},{"coin":"BCH","t":2018.064,"v":-3.142},{"coin":"BCH","t":2018.088,"v":-3.121},{"coin":"BCH","t":2018.113,"v":-3.080},{"coin":"BCH","t":2018.137,"v":-3.059},{"coin":"BCH","t":2018.161,"v":-3.038},{"coin":"BCH","t":2018.186,"v":-3.018},{"coin":"BCH","t":2018.210,"v":-2.997},{"coin":"BCH","t":2018.235,"v":-2.977},{"coin":"BCH","t":2018.259,"v":-2.956},{"coin":"BCH","t":2018.283,"v":-2.956},{"coin":"BCH","t":2018.308,"v":-3.059},{"coin":"BCH","t":2018.332,"v":-3.018},{"coin":"BCH","t":2018.357,"v":-2.977},{"coin":"BCH","t":2018.381,"v":-2.956},{"coin":"BCH","t":2018.405,"v":-2.935},{"coin":"BCH","t":2018.430,"v":-2.915},{"coin":"BCH","t":2018.454,"v":-2.915},{"coin":"BCH","t":2018.470,"v":-2.935},{"coin":"BCH","t":2018.487,"v":-3.245},{"coin":"BCH","t":2018.503,"v":-2.935},{"coin":"BCH","t":2018.527,"v":-3.121},{"coin":"BCH","t":2018.552,"v":-3.348},{"coin":"BCH","t":2018.568,"v":-3.059},{"coin":"BCH","t":2018.584,"v":-3.142},{"coin":"BCH","t":2018.600,"v":-3.368},{"coin":"BCH","t":2018.625,"v":-2.977},{"coin":"BCH","t":2018.641,"v":-3.307},{"coin":"BCH","t":2018.662,"v":-3.863},{"coin":"BCH","t":2018.682,"v":-3.348},{"coin":"BCH","t":2018.698,"v":-3.162},{"coin":"BCH","t":2018.722,"v":-3.307},{"coin":"BCH","t":2018.739,"v":-3.410},{"coin":"BCH","t":2018.755,"v":-3.018},{"coin":"BCH","t":2018.776,"v":-3.100},{"coin":"BCH","t":2018.796,"v":-3.348},{"coin":"BCH","t":2018.812,"v":-3.389},{"coin":"BCH","t":2018.828,"v":-3.059},{"coin":"BCH","t":2018.844,"v":-3.389},{"coin":"BCH","t":2018.861,"v":-3.018},{"coin":"BCH","t":2018.874,"v":-3.884},{"coin":"BCH","t":2018.893,"v":-3.224},{"coin":"BCH","t":2018.906,"v":-3.059},{"coin":"BCH","t":2018.926,"v":-2.935},{"coin":"BCH","t":2018.950,"v":-2.894},{"coin":"BCH","t":2018.974,"v":-2.873},{"coin":"BCH","t":2018.999,"v":-2.915},{"coin":"BCH","t":2019.023,"v":-2.935},{"coin":"BCH","t":2019.048,"v":-2.956},{"coin":"BCH","t":2019.104,"v":-3.100},{"coin":"BCH","t":2019.128,"v":-3.038},{"coin":"BCH","t":2019.153,"v":-2.935},{"coin":"BCH","t":2019.177,"v":-2.770},{"coin":"BCH","t":2019.202,"v":-2.832},{"coin":"BCH","t":2019.226,"v":-2.915},{"coin":"BCH","t":2019.250,"v":-3.203},{"coin":"BCH","t":2019.275,"v":-3.121},{"coin":"BCH","t":2019.299,"v":-3.183},{"coin":"BCH","t":2019.324,"v":-3.224},{"coin":"BCH","t":2019.340,"v":-3.472},{"coin":"BCH","t":2019.348,"v":-5.472},{"coin":"BCH","t":2019.364,"v":-5.452},{"coin":"BCH","t":2019.389,"v":-5.287},{"coin":"BCH","t":2019.410,"v":-3.595},{"coin":"BCH","t":2019.429,"v":-5.287},{"coin":"BCH","t":2019.446,"v":-3.616},{"coin":"BCH","t":2019.465,"v":-3.884},{"coin":"BCH","t":2019.486,"v":-5.307},{"coin":"BCH","t":2019.507,"v":-3.637},{"coin":"BCH","t":2019.527,"v":-3.595},{"coin":"BCH","t":2019.559,"v":-3.533},{"coin":"BCH","t":2019.576,"v":-5.039},{"coin":"BCH","t":2019.592,"v":-3.595},{"coin":"BCH","t":2019.608,"v":-3.533},{"coin":"BCH","t":2019.637,"v":-5.307},{"coin":"BCH","t":2019.657,"v":-3.595},{"coin":"BCH","t":2019.676,"v":-5.287},{"coin":"BCH","t":2019.698,"v":-3.533},{"coin":"BCH","t":2019.714,"v":-3.389},{"coin":"BCH","t":2019.735,"v":-3.389},{"coin":"BCH","t":2019.754,"v":-3.554},{"coin":"BCH","t":2019.771,"v":-3.492},{"coin":"BCH","t":2019.790,"v":-5.266},{"coin":"BCH","t":2019.816,"v":-3.554},{"coin":"BCH","t":2019.836,"v":-3.492},{"coin":"BCH","t":2019.852,"v":-5.163},{"coin":"BCH","t":2019.876,"v":-5.287},{"coin":"BCH","t":2019.893,"v":-5.348},{"coin":"BCH","t":2019.904,"v":-3.492},{"coin":"BCH","t":2019.925,"v":-5.163},{"coin":"BCH","t":2019.950,"v":-5.204},{"coin":"BCH","t":2019.974,"v":-5.163},{"coin":"BCH","t":2019.990,"v":-3.430},{"coin":"BCH","t":2020.002,"v":-5.287},{"coin":"BCH","t":2020.023,"v":-3.554},{"coin":"BCH","t":2020.044,"v":-5.266},{"coin":"BCH","t":2020.060,"v":-3.554},{"coin":"BCH","t":2020.080,"v":-3.533},{"coin":"BCH","t":2020.104,"v":-5.307},{"coin":"BCH","t":2020.128,"v":-4.173},{"coin":"BCH","t":2020.161,"v":-3.183},{"coin":"BCH","t":2020.177,"v":-3.183},{"coin":"BCH","t":2020.193,"v":-3.595},{"coin":"BCH","t":2020.218,"v":-3.595},{"coin":"BCH","t":2020.234,"v":-3.368},{"coin":"BCH","t":2020.250,"v":-3.554},{"coin":"BCH","t":2020.271,"v":-5.266},{"coin":"BCH","t":2020.291,"v":-5.039},{"coin":"BCH","t":2020.311,"v":-3.595},{"coin":"BCH","t":2020.332,"v":-3.595},{"coin":"BCH","t":2020.348,"v":-5.410},{"coin":"BCH","t":2020.364,"v":-4.750},{"coin":"BCH","t":2020.380,"v":-3.018},{"coin":"BCH","t":2020.397,"v":-5.122},{"coin":"BCH","t":2020.410,"v":-5.266},{"coin":"BCH","t":2020.424,"v":-3.183},{"coin":"BCH","t":2020.446,"v":-2.997},{"coin":"BCH","t":2020.470,"v":-2.997},{"coin":"BCH","t":2020.494,"v":-3.018},{"coin":"BCH","t":2020.519,"v":-3.038},{"coin":"BCH","t":2020.543,"v":-3.080},{"coin":"BCH","t":2020.564,"v":-3.162},{"coin":"BCH","t":2020.584,"v":-3.059},{"coin":"BCH","t":2020.608,"v":-2.935},{"coin":"BCH","t":2020.632,"v":-2.915},{"coin":"BCH","t":2020.657,"v":-2.915},{"coin":"BCH","t":2020.681,"v":-2.894},{"coin":"BCH","t":2020.706,"v":-2.902},{"coin":"BCH","t":2020.730,"v":-2.915},{"coin":"BCH","t":2020.754,"v":-2.915},{"coin":"BCH","t":2020.779,"v":-2.902},{"coin":"BCH","t":2020.803,"v":-2.915},{"coin":"BCH","t":2020.828,"v":-2.935},{"coin":"BCH","t":2020.852,"v":-2.977},{"coin":"BCH","t":2020.876,"v":-3.059},{"coin":"BCH","t":2020.893,"v":-2.997},{"coin":"BCH","t":2020.909,"v":-2.977},
{"coin":"FTC","t":2013.272,"v":-2.420},{"coin":"FTC","t":2013.286,"v":-3.059},{"coin":"FTC","t":2013.299,"v":-3.389},{"coin":"FTC","t":2013.316,"v":-3.637},{"coin":"FTC","t":2013.333,"v":-3.554},{"coin":"FTC","t":2013.345,"v":-2.935},{"coin":"FTC","t":2013.356,"v":-2.605},{"coin":"FTC","t":2013.377,"v":-2.502},{"coin":"FTC","t":2013.394,"v":-2.502},{"coin":"FTC","t":2013.408,"v":-2.420},{"coin":"FTC","t":2013.426,"v":-2.729},{"coin":"FTC","t":2013.443,"v":-2.853},{"coin":"FTC","t":2013.455,"v":-2.997},{"coin":"FTC","t":2013.473,"v":-2.935},{"coin":"FTC","t":2013.490,"v":-2.894},{"coin":"FTC","t":2013.508,"v":-2.894},{"coin":"FTC","t":2013.525,"v":-2.832},{"coin":"FTC","t":2013.542,"v":-2.811},{"coin":"FTC","t":2013.565,"v":-2.935},{"coin":"FTC","t":2013.582,"v":-3.059},{"coin":"FTC","t":2013.603,"v":-2.977},{"coin":"FTC","t":2013.621,"v":-2.894},{"coin":"FTC","t":2013.638,"v":-2.845},{"coin":"FTC","t":2013.655,"v":-2.873},{"coin":"FTC","t":2013.673,"v":-2.791},{"coin":"FTC","t":2013.690,"v":-2.832},{"coin":"FTC","t":2013.708,"v":-2.811},{"coin":"FTC","t":2013.725,"v":-2.770},{"coin":"FTC","t":2013.743,"v":-2.721},{"coin":"FTC","t":2013.760,"v":-2.811},{"coin":"FTC","t":2013.778,"v":-2.832},{"coin":"FTC","t":2013.795,"v":-2.894},{"coin":"FTC","t":2013.812,"v":-2.935},{"coin":"FTC","t":2013.830,"v":-2.886},{"coin":"FTC","t":2013.847,"v":-2.861},{"coin":"FTC","t":2013.873,"v":-2.894},{"coin":"FTC","t":2013.896,"v":-2.915},{"coin":"FTC","t":2013.920,"v":-3.109},{"coin":"FTC","t":2013.943,"v":-3.142},{"coin":"FTC","t":2013.969,"v":-3.121},{"coin":"FTC","t":2013.995,"v":-3.059},{"coin":"FTC","t":2014.021,"v":-3.018},{"coin":"FTC","t":2014.056,"v":-2.927},{"coin":"FTC","t":2014.091,"v":-2.832},{"coin":"FTC","t":2014.126,"v":-2.791},{"coin":"FTC","t":2014.161,"v":-2.729},{"coin":"FTC","t":2014.196,"v":-2.721},{"coin":"FTC","t":2014.230,"v":-2.696},{"coin":"FTC","t":2014.265,"v":-2.667},{"coin":"FTC","t":2014.300,"v":-2.605},{"coin":"FTC","t":2014.335,"v":-2.597},{"coin":"FTC","t":2014.361,"v":-2.523},{"coin":"FTC","t":2014.387,"v":-2.531},{"coin":"FTC","t":2014.413,"v":-2.482},{"coin":"FTC","t":2014.440,"v":-2.440},{"coin":"FTC","t":2014.454,"v":-2.399},{"coin":"FTC","t":2014.478,"v":-2.358},{"coin":"FTC","t":2014.502,"v":-2.296},{"coin":"FTC","t":2014.527,"v":-2.337},{"coin":"FTC","t":2014.551,"v":-2.317},{"coin":"FTC","t":2014.576,"v":-2.605},{"coin":"FTC","t":2014.597,"v":-2.275},{"coin":"FTC","t":2014.616,"v":-2.234},{"coin":"FTC","t":2014.641,"v":-2.234},{"coin":"FTC","t":2014.665,"v":-2.193},{"coin":"FTC","t":2014.689,"v":-2.172},{"coin":"FTC","t":2014.714,"v":-2.193},{"coin":"FTC","t":2014.738,"v":-2.234},{"coin":"FTC","t":2014.763,"v":-2.131},{"coin":"FTC","t":2014.782,"v":-2.152},{"coin":"FTC","t":2014.803,"v":-2.234},{"coin":"FTC","t":2014.828,"v":-2.317},{"coin":"FTC","t":2014.852,"v":-2.358},{"coin":"FTC","t":2014.876,"v":-2.378},{"coin":"FTC","t":2014.909,"v":-2.275},{"coin":"FTC","t":2014.941,"v":-2.193},{"coin":"FTC","t":2014.966,"v":-2.234},{"coin":"FTC","t":2014.990,"v":-2.337},{"coin":"FTC","t":2015.015,"v":-2.399},{"coin":"FTC","t":2015.039,"v":-2.378},{"coin":"FTC","t":2015.063,"v":-2.440},{"coin":"FTC","t":2015.088,"v":-2.461},{"coin":"FTC","t":2015.112,"v":-2.440},{"coin":"FTC","t":2015.136,"v":-2.461},{"coin":"FTC","t":2015.169,"v":-2.399},{"coin":"FTC","t":2015.202,"v":-2.337},{"coin":"FTC","t":2015.234,"v":-2.234},{"coin":"FTC","t":2015.267,"v":-2.275},{"coin":"FTC","t":2015.299,"v":-2.193},{"coin":"FTC","t":2015.332,"v":-2.234},{"coin":"FTC","t":2015.364,"v":-2.255},{"coin":"FTC","t":2015.397,"v":-2.234},{"coin":"FTC","t":2015.429,"v":-2.193},{"coin":"FTC","t":2015.462,"v":-2.234},{"coin":"FTC","t":2015.494,"v":-2.213},{"coin":"FTC","t":2015.527,"v":-2.234},{"coin":"FTC","t":2015.559,"v":-2.213},{"coin":"FTC","t":2015.592,"v":-2.193},{"coin":"FTC","t":2015.624,"v":-2.234},{"coin":"FTC","t":2015.657,"v":-2.213},{"coin":"FTC","t":2015.689,"v":-2.234},{"coin":"FTC","t":2015.722,"v":-2.255},{"coin":"FTC","t":2015.754,"v":-2.275},{"coin":"FTC","t":2015.787,"v":-2.275},{"coin":"FTC","t":2015.819,"v":-2.317},{"coin":"FTC","t":2015.852,"v":-2.296},{"coin":"FTC","t":2015.884,"v":-2.337},{"coin":"FTC","t":2015.917,"v":-2.317},{"coin":"FTC","t":2015.950,"v":-2.358},{"coin":"FTC","t":2015.982,"v":-2.358},{"coin":"FTC","t":2016.015,"v":-2.378},{"coin":"FTC","t":2016.047,"v":-2.440},{"coin":"FTC","t":2016.080,"v":-2.440},{"coin":"FTC","t":2016.112,"v":-2.440},{"coin":"FTC","t":2016.145,"v":-2.461},{"coin":"FTC","t":2016.161,"v":-2.069},{"coin":"FTC","t":2016.177,"v":-2.317},{"coin":"FTC","t":2016.193,"v":-2.131},{"coin":"FTC","t":2016.210,"v":-2.317},{"coin":"FTC","t":2016.226,"v":-2.564},{"coin":"FTC","t":2016.250,"v":-2.647},{"coin":"FTC","t":2016.275,"v":-2.729},{"coin":"FTC","t":2016.291,"v":-2.832},{"coin":"FTC","t":2016.307,"v":-2.688},{"coin":"FTC","t":2016.323,"v":-2.626},{"coin":"FTC","t":2016.340,"v":-2.729},{"coin":"FTC","t":2016.356,"v":-2.605},{"coin":"FTC","t":2016.389,"v":-2.482},{"coin":"FTC","t":2016.421,"v":-2.399},{"coin":"FTC","t":2016.454,"v":-2.688},{"coin":"FTC","t":2016.470,"v":-2.399},{"coin":"FTC","t":2016.486,"v":-2.647},{"coin":"FTC","t":2016.519,"v":-2.688},{"coin":"FTC","t":2016.535,"v":-2.440},{"coin":"FTC","t":2016.551,"v":-2.358},{"coin":"FTC","t":2016.576,"v":-2.482},{"coin":"FTC","t":2016.600,"v":-2.605},{"coin":"FTC","t":2016.624,"v":-2.647},{"coin":"FTC","t":2016.649,"v":-2.688},{"coin":"FTC","t":2016.681,"v":-2.482},{"coin":"FTC","t":2016.714,"v":-2.420},{"coin":"FTC","t":2016.747,"v":-2.296},{"coin":"FTC","t":2016.771,"v":-2.358},{"coin":"FTC","t":2016.787,"v":-2.399},{"coin":"FTC","t":2016.799,"v":-4.111},{"coin":"FTC","t":2016.812,"v":-2.317},{"coin":"FTC","t":2016.836,"v":-2.255},{"coin":"FTC","t":2016.861,"v":-2.234},{"coin":"FTC","t":2016.885,"v":-2.213},{"coin":"FTC","t":2016.909,"v":-2.234},{"coin":"FTC","t":2016.926,"v":-2.193},{"coin":"FTC","t":2016.942,"v":-2.420},{"coin":"FTC","t":2016.966,"v":-2.440},{"coin":"FTC","t":2016.991,"v":-2.482},{"coin":"FTC","t":2017.015,"v":-2.461},{"coin":"FTC","t":2017.039,"v":-2.440},{"coin":"FTC","t":2017.064,"v":-2.432},{"coin":"FTC","t":2017.088,"v":-2.275},{"coin":"FTC","t":2017.105,"v":-2.440},{"coin":"FTC","t":2017.129,"v":-2.399},{"coin":"FTC","t":2017.153,"v":-2.358},{"coin":"FTC","t":2017.178,"v":-2.337},{"coin":"FTC","t":2017.202,"v":-2.337},{"coin":"FTC","t":2017.226,"v":-2.399},{"coin":"FTC","t":2017.251,"v":-2.350},{"coin":"FTC","t":2017.275,"v":-2.378},{"coin":"FTC","t":2017.300,"v":-2.399},{"coin":"FTC","t":2017.324,"v":-2.440},{"coin":"FTC","t":2017.348,"v":-2.461},{"coin":"FTC","t":2017.381,"v":-2.440},{"coin":"FTC","t":2017.413,"v":-2.482},{"coin":"FTC","t":2017.438,"v":-2.502},{"coin":"FTC","t":2017.454,"v":-2.378},{"coin":"FTC","t":2017.470,"v":-2.647},{"coin":"FTC","t":2017.478,"v":-3.059},{"coin":"FTC","t":2017.490,"v":-3.410},{"coin":"FTC","t":2017.503,"v":-2.647},{"coin":"FTC","t":2017.519,"v":-2.378},{"coin":"FTC","t":2017.544,"v":-2.255},{"coin":"FTC","t":2017.568,"v":-2.275},{"coin":"FTC","t":2017.592,"v":-2.234},{"coin":"FTC","t":2017.617,"v":-2.213},{"coin":"FTC","t":2017.641,"v":-2.234},{"coin":"FTC","t":2017.665,"v":-2.213},{"coin":"FTC","t":2017.682,"v":-2.110},{"coin":"FTC","t":2017.698,"v":-2.213},{"coin":"FTC","t":2017.714,"v":-2.069},{"coin":"FTC","t":2017.739,"v":-2.048},{"coin":"FTC","t":2017.763,"v":-2.069},{"coin":"FTC","t":2017.784,"v":-2.020},{"coin":"FTC","t":2017.804,"v":-2.275},{"coin":"FTC","t":2017.820,"v":-2.461},{"coin":"FTC","t":2017.836,"v":-2.317},{"coin":"FTC","t":2017.853,"v":-2.482},{"coin":"FTC","t":2017.869,"v":-2.440},{"coin":"FTC","t":2017.893,"v":-2.564},{"coin":"FTC","t":2017.918,"v":-2.605},{"coin":"FTC","t":2017.942,"v":-2.564},{"coin":"FTC","t":2017.966,"v":-2.523},{"coin":"FTC","t":2017.991,"v":-2.482},{"coin":"FTC","t":2018.015,"v":-2.473},{"coin":"FTC","t":2018.039,"v":-2.440},{"coin":"FTC","t":2018.064,"v":-2.399},{"coin":"FTC","t":2018.088,"v":-2.337},{"coin":"FTC","t":2018.113,"v":-2.234},{"coin":"FTC","t":2018.137,"v":-2.193},{"coin":"FTC","t":2018.161,"v":-2.152},{"coin":"FTC","t":2018.186,"v":-2.131},{"coin":"FTC","t":2018.210,"v":-2.090},{"coin":"FTC","t":2018.226,"v":-2.048},{"coin":"FTC","t":2018.243,"v":-2.131},{"coin":"FTC","t":2018.267,"v":-2.131},{"coin":"FTC","t":2018.291,"v":-2.152},{"coin":"FTC","t":2018.308,"v":-2.193},{"coin":"FTC","t":2018.324,"v":-2.131},{"coin":"FTC","t":2018.348,"v":-2.213},{"coin":"FTC","t":2018.373,"v":-2.172},{"coin":"FTC","t":2018.397,"v":-2.131},{"coin":"FTC","t":2018.413,"v":-2.193},{"coin":"FTC","t":2018.430,"v":-2.213},{"coin":"FTC","t":2018.454,"v":-2.152},{"coin":"FTC","t":2018.479,"v":-2.069},{"coin":"FTC","t":2018.503,"v":-1.945},{"coin":"FTC","t":2018.527,"v":-1.883},{"coin":"FTC","t":2018.552,"v":-1.945},{"coin":"FTC","t":2018.576,"v":-2.028},{"coin":"FTC","t":2018.600,"v":-2.007},{"coin":"FTC","t":2018.625,"v":-1.966},{"coin":"FTC","t":2018.649,"v":-1.925},{"coin":"FTC","t":2018.674,"v":-1.842},{"coin":"FTC","t":2018.698,"v":-1.822},{"coin":"FTC","t":2018.722,"v":-1.925},{"coin":"FTC","t":2018.739,"v":-2.007},{"coin":"FTC","t":2018.763,"v":-1.883},{"coin":"FTC","t":2018.787,"v":-1.945},{"coin":"FTC","t":2018.812,"v":-1.925},{"coin":"FTC","t":2018.836,"v":-1.987},{"coin":"FTC","t":2018.861,"v":-2.007},{"coin":"FTC","t":2018.885,"v":-2.110},{"coin":"FTC","t":2018.901,"v":-2.152},{"coin":"FTC","t":2018.918,"v":-1.966},{"coin":"FTC","t":2018.934,"v":-1.945},{"coin":"FTC","t":2018.958,"v":-1.987},{"coin":"FTC","t":2018.983,"v":-2.007},{"coin":"FTC","t":2019.007,"v":-2.048},{"coin":"FTC","t":2019.031,"v":-2.028},{"coin":"FTC","t":2019.055,"v":-2.048},{"coin":"FTC","t":2019.080,"v":-2.048},{"coin":"FTC","t":2019.101,"v":-2.399},{"coin":"FTC","t":2019.120,"v":-2.152},{"coin":"FTC","t":2019.137,"v":-2.234},{"coin":"FTC","t":2019.161,"v":-2.275},{"coin":"FTC","t":2019.185,"v":-1.987},{"coin":"FTC","t":2019.210,"v":-1.945},{"coin":"FTC","t":2019.234,"v":-2.007},{"coin":"FTC","t":2019.259,"v":-2.110},{"coin":"FTC","t":2019.283,"v":-2.007},{"coin":"FTC","t":2019.307,"v":-1.883},{"coin":"FTC","t":2019.332,"v":-1.780},{"coin":"FTC","t":2019.356,"v":-1.904},{"coin":"FTC","t":2019.380,"v":-1.883},{"coin":"FTC","t":2019.405,"v":-1.842},{"coin":"FTC","t":2019.429,"v":-1.780},{"coin":"FTC","t":2019.454,"v":-1.698},{"coin":"FTC","t":2019.478,"v":-1.677},{"coin":"FTC","t":2019.502,"v":-1.657},{"coin":"FTC","t":2019.527,"v":-1.574},{"coin":"FTC","t":2019.551,"v":-1.553},{"coin":"FTC","t":2019.576,"v":-1.553},{"coin":"FTC","t":2019.600,"v":-1.533},{"coin":"FTC","t":2019.624,"v":-1.492},{"coin":"FTC","t":2019.649,"v":-1.512},{"coin":"FTC","t":2019.673,"v":-1.553},{"coin":"FTC","t":2019.698,"v":-1.533},{"coin":"FTC","t":2019.722,"v":-1.574},{"coin":"FTC","t":2019.746,"v":-1.574},{"coin":"FTC","t":2019.771,"v":-1.760},{"coin":"FTC","t":2019.787,"v":-1.636},{"coin":"FTC","t":2019.803,"v":-1.677},{"coin":"FTC","t":2019.828,"v":-1.657},{"coin":"FTC","t":2019.852,"v":-1.677},{"coin":"FTC","t":2019.876,"v":-1.677},{"coin":"FTC","t":2019.901,"v":-1.718},{"coin":"FTC","t":2019.917,"v":-1.945},{"coin":"FTC","t":2019.925,"v":-2.275},{"coin":"FTC","t":2019.941,"v":-1.822},{"coin":"FTC","t":2019.966,"v":-1.780},{"coin":"FTC","t":2019.990,"v":-1.760},{"coin":"FTC","t":2020.015,"v":-1.801},{"coin":"FTC","t":2020.034,"v":-1.574},{"coin":"FTC","t":2020.055,"v":-1.409},{"coin":"FTC","t":2020.080,"v":-1.718},{"coin":"FTC","t":2020.096,"v":-1.966},{"coin":"FTC","t":2020.120,"v":-1.925},{"coin":"FTC","t":2020.145,"v":-1.863},{"coin":"FTC","t":2020.169,"v":-1.780},{"coin":"FTC","t":2020.193,"v":-1.739},{"coin":"FTC","t":2020.218,"v":-1.698},{"coin":"FTC","t":2020.234,"v":-1.595},{"coin":"FTC","t":2020.250,"v":-1.698},{"coin":"FTC","t":2020.275,"v":-1.657},{"coin":"FTC","t":2020.291,"v":-1.636},{"coin":"FTC","t":2020.307,"v":-1.966},{"coin":"FTC","t":2020.324,"v":-2.523},{"coin":"FTC","t":2020.340,"v":-2.399},{"coin":"FTC","t":2020.364,"v":-2.461},{"coin":"FTC","t":2020.385,"v":-2.234},{"coin":"FTC","t":2020.405,"v":-2.337},{"coin":"FTC","t":2020.429,"v":-2.275},{"coin":"FTC","t":2020.446,"v":-1.904},{"coin":"FTC","t":2020.470,"v":-1.822},{"coin":"FTC","t":2020.494,"v":-1.780},{"coin":"FTC","t":2020.519,"v":-1.698},{"coin":"FTC","t":2020.535,"v":-1.657},{"coin":"FTC","t":2020.559,"v":-1.574},{"coin":"FTC","t":2020.580,"v":-1.780},{"coin":"FTC","t":2020.600,"v":-1.822},{"coin":"FTC","t":2020.624,"v":-1.842},{"coin":"FTC","t":2020.649,"v":-1.945},{"coin":"FTC","t":2020.673,"v":-1.966},{"coin":"FTC","t":2020.698,"v":-2.028},{"coin":"FTC","t":2020.722,"v":-2.069},{"coin":"FTC","t":2020.746,"v":-2.090},{"coin":"FTC","t":2020.771,"v":-2.110},{"coin":"FTC","t":2020.787,"v":-2.193},{"coin":"FTC","t":2020.811,"v":-2.069},{"coin":"FTC","t":2020.836,"v":-2.110},{"coin":"FTC","t":2020.860,"v":-2.193},{"coin":"FTC","t":2020.885,"v":-2.275},{"coin":"FTC","t":2020.909,"v":-2.234},
{"coin":"MONA","t":2013.995,"v":-3.018},{"coin":"MONA","t":2014.021,"v":-2.894},{"coin":"MONA","t":2014.039,"v":-2.894},{"coin":"MONA","t":2014.056,"v":-3.142},{"coin":"MONA","t":2014.074,"v":-2.894},{"coin":"MONA","t":2014.091,"v":-2.977},{"coin":"MONA","t":2014.109,"v":-3.059},{"coin":"MONA","t":2014.126,"v":-2.894},{"coin":"MONA","t":2014.143,"v":-2.729},{"coin":"MONA","t":2014.161,"v":-2.894},{"coin":"MONA","t":2014.178,"v":-2.729},{"coin":"MONA","t":2014.196,"v":-2.956},{"coin":"MONA","t":2014.230,"v":-2.894},{"coin":"MONA","t":2014.265,"v":-2.811},{"coin":"MONA","t":2014.283,"v":-2.915},{"coin":"MONA","t":2014.317,"v":-2.564},{"coin":"MONA","t":2014.335,"v":-2.399},{"coin":"MONA","t":2014.370,"v":-2.337},{"coin":"MONA","t":2014.396,"v":-2.420},{"coin":"MONA","t":2014.422,"v":-2.337},{"coin":"MONA","t":2014.440,"v":-2.234},{"coin":"MONA","t":2014.454,"v":-2.213},{"coin":"MONA","t":2014.478,"v":-2.255},{"coin":"MONA","t":2014.502,"v":-2.255},{"coin":"MONA","t":2014.527,"v":-2.337},{"coin":"MONA","t":2014.551,"v":-2.317},{"coin":"MONA","t":2014.576,"v":-2.502},{"coin":"MONA","t":2014.600,"v":-2.234},{"coin":"MONA","t":2014.624,"v":-2.213},{"coin":"MONA","t":2014.649,"v":-2.337},{"coin":"MONA","t":2014.673,"v":-2.193},{"coin":"MONA","t":2014.697,"v":-2.143},{"coin":"MONA","t":2014.722,"v":-2.317},{"coin":"MONA","t":2014.746,"v":-2.296},{"coin":"MONA","t":2014.771,"v":-2.234},{"coin":"MONA","t":2014.787,"v":-2.275},{"coin":"MONA","t":2014.811,"v":-2.317},{"coin":"MONA","t":2014.844,"v":-2.110},{"coin":"MONA","t":2014.868,"v":-2.461},{"coin":"MONA","t":2014.884,"v":-2.152},{"coin":"MONA","t":2014.909,"v":-2.337},{"coin":"MONA","t":2014.933,"v":-1.904},{"coin":"MONA","t":2014.949,"v":-1.842},{"coin":"MONA","t":2014.971,"v":-1.842},{"coin":"MONA","t":2014.987,"v":-2.110},{"coin":"MONA","t":2015.003,"v":-2.317},{"coin":"MONA","t":2015.023,"v":-2.213},{"coin":"MONA","t":2015.047,"v":-2.275},{"coin":"MONA","t":2015.071,"v":-2.358},{"coin":"MONA","t":2015.096,"v":-2.440},{"coin":"MONA","t":2015.120,"v":-2.482},{"coin":"MONA","t":2015.145,"v":-2.275},{"coin":"MONA","t":2015.169,"v":-2.461},{"coin":"MONA","t":2015.202,"v":-2.399},{"coin":"MONA","t":2015.234,"v":-2.296},{"coin":"MONA","t":2015.267,"v":-2.213},{"coin":"MONA","t":2015.291,"v":-2.255},{"coin":"MONA","t":2015.315,"v":-2.337},{"coin":"MONA","t":2015.348,"v":-2.523},{"coin":"MONA","t":2015.372,"v":-2.399},{"coin":"MONA","t":2015.397,"v":-2.378},{"coin":"MONA","t":2015.413,"v":-2.131},{"coin":"MONA","t":2015.429,"v":-2.399},{"coin":"MONA","t":2015.454,"v":-2.337},{"coin":"MONA","t":2015.478,"v":-2.193},{"coin":"MONA","t":2015.494,"v":-2.131},{"coin":"MONA","t":2015.519,"v":-2.152},{"coin":"MONA","t":2015.543,"v":-2.131},{"coin":"MONA","t":2015.563,"v":-2.020},{"coin":"MONA","t":2015.579,"v":-2.131},{"coin":"MONA","t":2015.600,"v":-2.152},{"coin":"MONA","t":2015.624,"v":-2.172},{"coin":"MONA","t":2015.649,"v":-2.110},{"coin":"MONA","t":2015.673,"v":-2.069},{"coin":"MONA","t":2015.697,"v":-2.028},{"coin":"MONA","t":2015.722,"v":-2.193},{"coin":"MONA","t":2015.746,"v":-2.317},{"coin":"MONA","t":2015.771,"v":-2.172},{"coin":"MONA","t":2015.795,"v":-2.048},{"coin":"MONA","t":2015.819,"v":-2.420},{"coin":"MONA","t":2015.844,"v":-2.399},{"coin":"MONA","t":2015.868,"v":-2.317},{"coin":"MONA","t":2015.893,"v":-2.234},{"coin":"MONA","t":2015.917,"v":-2.069},{"coin":"MONA","t":2015.941,"v":-2.069},{"coin":"MONA","t":2015.966,"v":-1.966},{"coin":"MONA","t":2015.990,"v":-1.987},{"coin":"MONA","t":2016.015,"v":-1.945},{"coin":"MONA","t":2016.039,"v":-2.069},{"coin":"MONA","t":2016.063,"v":-2.152},{"coin":"MONA","t":2016.088,"v":-2.110},{"coin":"MONA","t":2016.112,"v":-2.131},{"coin":"MONA","t":2016.136,"v":-2.110},{"coin":"MONA","t":2016.161,"v":-2.131},{"coin":"MONA","t":2016.185,"v":-2.090},{"coin":"MONA","t":2016.210,"v":-2.110},{"coin":"MONA","t":2016.242,"v":-2.152},{"coin":"MONA","t":2016.275,"v":-2.172},{"coin":"MONA","t":2016.307,"v":-2.234},{"coin":"MONA","t":2016.332,"v":-2.440},{"coin":"MONA","t":2016.356,"v":-2.213},{"coin":"MONA","t":2016.380,"v":-2.234},{"coin":"MONA","t":2016.405,"v":-2.358},{"coin":"MONA","t":2016.429,"v":-2.152},{"coin":"MONA","t":2016.454,"v":-2.317},{"coin":"MONA","t":2016.486,"v":-2.461},{"coin":"MONA","t":2016.519,"v":-2.317},{"coin":"MONA","t":2016.551,"v":-2.275},{"coin":"MONA","t":2016.576,"v":-2.234},{"coin":"MONA","t":2016.600,"v":-2.317},{"coin":"MONA","t":2016.624,"v":-2.069},{"coin":"MONA","t":2016.641,"v":-1.945},{"coin":"MONA","t":2016.665,"v":-2.337},{"coin":"MONA","t":2016.689,"v":-2.172},{"coin":"MONA","t":2016.722,"v":-2.152},{"coin":"MONA","t":2016.771,"v":-2.110},{"coin":"MONA","t":2016.796,"v":-2.069},{"coin":"MONA","t":2016.820,"v":-2.131},{"coin":"MONA","t":2016.844,"v":-2.028},{"coin":"MONA","t":2016.869,"v":-2.007},{"coin":"MONA","t":2016.893,"v":-2.028},{"coin":"MONA","t":2016.918,"v":-2.069},{"coin":"MONA","t":2016.942,"v":-2.028},{"coin":"MONA","t":2016.966,"v":-2.007},{"coin":"MONA","t":2016.991,"v":-2.048},{"coin":"MONA","t":2017.015,"v":-2.028},{"coin":"MONA","t":2017.039,"v":-2.007},{"coin":"MONA","t":2017.064,"v":-2.048},{"coin":"MONA","t":2017.088,"v":-2.007},{"coin":"MONA","t":2017.105,"v":-2.090},{"coin":"MONA","t":2017.121,"v":-1.842},{"coin":"MONA","t":2017.137,"v":-1.945},{"coin":"MONA","t":2017.161,"v":-2.007},{"coin":"MONA","t":2017.178,"v":-2.131},{"coin":"MONA","t":2017.194,"v":-2.028},{"coin":"MONA","t":2017.218,"v":-2.028},{"coin":"MONA","t":2017.243,"v":-2.048},{"coin":"MONA","t":2017.267,"v":-2.090},{"coin":"MONA","t":2017.291,"v":-2.213},{"coin":"MONA","t":2017.308,"v":-2.399},{"coin":"MONA","t":2017.324,"v":-2.502},{"coin":"MONA","t":2017.340,"v":-2.358},{"coin":"MONA","t":2017.353,"v":-2.193},{"coin":"MONA","t":2017.365,"v":-2.564},{"coin":"MONA","t":2017.381,"v":-2.399},{"coin":"MONA","t":2017.405,"v":-2.420},{"coin":"MONA","t":2017.430,"v":-2.564},{"coin":"MONA","t":2017.446,"v":-2.605},{"coin":"MONA","t":2017.470,"v":-2.667},{"coin":"MONA","t":2017.495,"v":-2.770},{"coin":"MONA","t":2017.519,"v":-2.750},{"coin":"MONA","t":2017.544,"v":-2.647},{"coin":"MONA","t":2017.568,"v":-2.543},{"coin":"MONA","t":2017.592,"v":-2.399},{"coin":"MONA","t":2017.617,"v":-2.440},{"coin":"MONA","t":2017.641,"v":-2.482},{"coin":"MONA","t":2017.665,"v":-2.523},{"coin":"MONA","t":2017.682,"v":-2.543},{"coin":"MONA","t":2017.698,"v":-2.440},{"coin":"MONA","t":2017.722,"v":-2.564},{"coin":"MONA","t":2017.747,"v":-2.832},{"coin":"MONA","t":2017.771,"v":-3.162},{"coin":"MONA","t":2017.787,"v":-3.018},{"coin":"MONA","t":2017.804,"v":-2.935},{"coin":"MONA","t":2017.820,"v":-2.770},{"coin":"MONA","t":2017.836,"v":-2.647},{"coin":"MONA","t":2017.856,"v":-2.564},{"coin":"MONA","t":2017.872,"v":-2.502},{"coin":"MONA","t":2017.893,"v":-2.647},{"coin":"MONA","t":2017.909,"v":-3.018},{"coin":"MONA","t":2017.926,"v":-3.554},{"coin":"MONA","t":2017.942,"v":-3.595},{"coin":"MONA","t":2017.958,"v":-3.472},{"coin":"MONA","t":2017.983,"v":-3.265},{"coin":"MONA","t":2018.007,"v":-3.059},{"coin":"MONA","t":2018.031,"v":-2.894},{"coin":"MONA","t":2018.048,"v":-2.791},{"coin":"MONA","t":2018.064,"v":-2.845},{"coin":"MONA","t":2018.088,"v":-2.811},{"coin":"MONA","t":2018.113,"v":-2.770},{"coin":"MONA","t":2018.137,"v":-2.729},{"coin":"MONA","t":2018.161,"v":-2.688},{"coin":"MONA","t":2018.186,"v":-2.647},{"coin":"MONA","t":2018.210,"v":-2.626},{"coin":"MONA","t":2018.235,"v":-2.605},{"coin":"MONA","t":2018.259,"v":-2.585},{"coin":"MONA","t":2018.283,"v":-2.605},{"coin":"MONA","t":2018.300,"v":-2.399},{"coin":"MONA","t":2018.316,"v":-2.358},{"coin":"MONA","t":2018.340,"v":-2.399},{"coin":"MONA","t":2018.365,"v":-2.482},{"coin":"MONA","t":2018.381,"v":-2.585},{"coin":"MONA","t":2018.405,"v":-2.564},{"coin":"MONA","t":2018.430,"v":-2.564},{"coin":"MONA","t":2018.454,"v":-2.543},{"coin":"MONA","t":2018.479,"v":-2.440},{"coin":"MONA","t":2018.503,"v":-2.482},{"coin":"MONA","t":2018.527,"v":-2.337},{"coin":"MONA","t":2018.544,"v":-2.317},{"coin":"MONA","t":2018.568,"v":-2.378},{"coin":"MONA","t":2018.592,"v":-2.461},{"coin":"MONA","t":2018.617,"v":-2.482},{"coin":"MONA","t":2018.641,"v":-2.482},{"coin":"MONA","t":2018.665,"v":-2.482},{"coin":"MONA","t":2018.690,"v":-2.502},{"coin":"MONA","t":2018.714,"v":-2.461},{"coin":"MONA","t":2018.739,"v":-2.399},{"coin":"MONA","t":2018.763,"v":-2.358},{"coin":"MONA","t":2018.787,"v":-2.317},{"coin":"MONA","t":2018.812,"v":-2.275},{"coin":"MONA","t":2018.828,"v":-2.213},{"coin":"MONA","t":2018.844,"v":-2.399},{"coin":"MONA","t":2018.861,"v":-2.193},{"coin":"MONA","t":2018.877,"v":-2.420},{"coin":"MONA","t":2018.893,"v":-2.234},{"coin":"MONA","t":2018.918,"v":-2.255},{"coin":"MONA","t":2018.942,"v":-2.193},{"coin":"MONA","t":2018.966,"v":-2.152},{"coin":"MONA","t":2018.991,"v":-2.069},{"coin":"MONA","t":2019.015,"v":-2.090},{"coin":"MONA","t":2019.039,"v":-2.048},{"coin":"MONA","t":2019.063,"v":-2.028},{"coin":"MONA","t":2019.088,"v":-1.987},{"coin":"MONA","t":2019.112,"v":-1.945},{"coin":"MONA","t":2019.137,"v":-1.987},{"coin":"MONA","t":2019.161,"v":-2.007},{"coin":"MONA","t":2019.169,"v":-2.255},{"coin":"MONA","t":2019.185,"v":-2.028},{"coin":"MONA","t":2019.210,"v":-1.966},{"coin":"MONA","t":2019.234,"v":-1.987},{"coin":"MONA","t":2019.259,"v":-1.925},{"coin":"MONA","t":2019.283,"v":-2.028},{"coin":"MONA","t":2019.307,"v":-1.987},{"coin":"MONA","t":2019.332,"v":-1.925},{"coin":"MONA","t":2019.356,"v":-2.028},{"coin":"MONA","t":2019.380,"v":-2.152},{"coin":"MONA","t":2019.400,"v":-2.317},{"coin":"MONA","t":2019.416,"v":-2.440},{"coin":"MONA","t":2019.432,"v":-2.213},{"coin":"MONA","t":2019.454,"v":-2.131},{"coin":"MONA","t":2019.478,"v":-2.110},{"coin":"MONA","t":2019.491,"v":-2.007},{"coin":"MONA","t":2019.511,"v":-2.255},{"coin":"MONA","t":2019.535,"v":-2.255},{"coin":"MONA","t":2019.559,"v":-2.028},{"coin":"MONA","t":2019.584,"v":-1.945},{"coin":"MONA","t":2019.608,"v":-1.925},{"coin":"MONA","t":2019.621,"v":-2.131},{"coin":"MONA","t":2019.641,"v":-2.131},{"coin":"MONA","t":2019.665,"v":-2.110},{"coin":"MONA","t":2019.689,"v":-2.110},{"coin":"MONA","t":2019.714,"v":-2.069},{"coin":"MONA","t":2019.738,"v":-2.028},{"coin":"MONA","t":2019.763,"v":-2.007},{"coin":"MONA","t":2019.787,"v":-1.966},{"coin":"MONA","t":2019.811,"v":-2.007},{"coin":"MONA","t":2019.836,"v":-1.987},{"coin":"MONA","t":2019.860,"v":-1.966},{"coin":"MONA","t":2019.885,"v":-1.966},{"coin":"MONA","t":2019.909,"v":-1.904},{"coin":"MONA","t":2019.933,"v":-1.925},{"coin":"MONA","t":2019.958,"v":-1.904},{"coin":"MONA","t":2019.982,"v":-1.925},{"coin":"MONA","t":2020.006,"v":-1.842},{"coin":"MONA","t":2020.031,"v":-1.925},{"coin":"MONA","t":2020.055,"v":-1.966},{"coin":"MONA","t":2020.080,"v":-1.987},{"coin":"MONA","t":2020.104,"v":-1.925},{"coin":"MONA","t":2020.128,"v":-1.863},{"coin":"MONA","t":2020.153,"v":-1.801},{"coin":"MONA","t":2020.177,"v":-1.760},{"coin":"MONA","t":2020.202,"v":-1.698},{"coin":"MONA","t":2020.218,"v":-1.822},{"coin":"MONA","t":2020.242,"v":-1.739},{"coin":"MONA","t":2020.267,"v":-1.760},{"coin":"MONA","t":2020.291,"v":-1.739},{"coin":"MONA","t":2020.315,"v":-1.760},{"coin":"MONA","t":2020.340,"v":-1.780},{"coin":"MONA","t":2020.359,"v":-1.842},{"coin":"MONA","t":2020.389,"v":-1.801},{"coin":"MONA","t":2020.413,"v":-1.760},{"coin":"MONA","t":2020.437,"v":-1.739},{"coin":"MONA","t":2020.462,"v":-1.718},{"coin":"MONA","t":2020.483,"v":-1.657},{"coin":"MONA","t":2020.502,"v":-1.718},{"coin":"MONA","t":2020.522,"v":-1.677},{"coin":"MONA","t":2020.543,"v":-1.780},{"coin":"MONA","t":2020.567,"v":-1.760},{"coin":"MONA","t":2020.592,"v":-1.780},{"coin":"MONA","t":2020.608,"v":-1.718},{"coin":"MONA","t":2020.632,"v":-1.706},{"coin":"MONA","t":2020.657,"v":-1.706},{"coin":"MONA","t":2020.681,"v":-1.731},{"coin":"MONA","t":2020.706,"v":-1.780},{"coin":"MONA","t":2020.717,"v":-1.904},{"coin":"MONA","t":2020.727,"v":-2.317},{"coin":"MONA","t":2020.738,"v":-3.410},{"coin":"MONA","t":2020.762,"v":-3.410},{"coin":"MONA","t":2020.787,"v":-3.410},{"coin":"MONA","t":2020.811,"v":-3.422},{"coin":"MONA","t":2020.836,"v":-3.389},{"coin":"MONA","t":2020.852,"v":-3.059},{"coin":"MONA","t":2020.863,"v":-2.440},{"coin":"MONA","t":2020.876,"v":-1.739},{"coin":"MONA","t":2020.901,"v":-1.780},
{"coin":"ETH","t":2015.608,"v":-2.626},{"coin":"ETH","t":2015.632,"v":-2.399},{"coin":"ETH","t":2015.649,"v":-2.275},{"coin":"ETH","t":2015.673,"v":-2.255},{"coin":"ETH","t":2015.697,"v":-2.255},{"coin":"ETH","t":2015.722,"v":-2.234},{"coin":"ETH","t":2015.746,"v":-2.213},{"coin":"ETH","t":2015.771,"v":-2.172},{"coin":"ETH","t":2015.787,"v":-2.143},{"coin":"ETH","t":2015.811,"v":-2.193},{"coin":"ETH","t":2015.836,"v":-2.234},{"coin":"ETH","t":2015.860,"v":-2.234},{"coin":"ETH","t":2015.884,"v":-2.226},{"coin":"ETH","t":2015.909,"v":-2.234},{"coin":"ETH","t":2015.933,"v":-2.234},{"coin":"ETH","t":2015.958,"v":-2.255},{"coin":"ETH","t":2015.982,"v":-2.255},{"coin":"ETH","t":2016.006,"v":-2.267},{"coin":"ETH","t":2016.031,"v":-2.284},{"coin":"ETH","t":2016.055,"v":-2.317},{"coin":"ETH","t":2016.080,"v":-2.523},{"coin":"ETH","t":2016.104,"v":-2.647},{"coin":"ETH","t":2016.128,"v":-2.708},{"coin":"ETH","t":2016.153,"v":-2.770},{"coin":"ETH","t":2016.177,"v":-2.853},{"coin":"ETH","t":2016.202,"v":-2.894},{"coin":"ETH","t":2016.226,"v":-2.832},{"coin":"ETH","t":2016.250,"v":-2.832},{"coin":"ETH","t":2016.275,"v":-2.803},{"coin":"ETH","t":2016.291,"v":-2.770},{"coin":"ETH","t":2016.307,"v":-2.832},{"coin":"ETH","t":2016.332,"v":-2.873},{"coin":"ETH","t":2016.356,"v":-2.894},{"coin":"ETH","t":2016.380,"v":-2.915},{"coin":"ETH","t":2016.405,"v":-2.956},{"coin":"ETH","t":2016.429,"v":-2.935},{"coin":"ETH","t":2016.454,"v":-2.977},{"coin":"ETH","t":2016.478,"v":-2.956},{"coin":"ETH","t":2016.502,"v":-2.977},{"coin":"ETH","t":2016.527,"v":-2.956},{"coin":"ETH","t":2016.551,"v":-2.997},{"coin":"ETH","t":2016.576,"v":-3.059},{"coin":"ETH","t":2016.600,"v":-3.018},{"coin":"ETH","t":2016.624,"v":-2.977},{"coin":"ETH","t":2016.649,"v":-2.977},{"coin":"ETH","t":2016.673,"v":-2.985},{"coin":"ETH","t":2016.697,"v":-2.997},{"coin":"ETH","t":2016.722,"v":-2.977},{"coin":"ETH","t":2016.771,"v":-3.018},{"coin":"ETH","t":2016.796,"v":-3.010},{"coin":"ETH","t":2016.820,"v":-3.018},{"coin":"ETH","t":2016.844,"v":-2.997},{"coin":"ETH","t":2016.869,"v":-2.997},{"coin":"ETH","t":2016.885,"v":-3.121},{"coin":"ETH","t":2016.896,"v":-3.224},{"coin":"ETH","t":2016.909,"v":-3.059},{"coin":"ETH","t":2016.926,"v":-2.956},{"coin":"ETH","t":2016.950,"v":-2.915},{"coin":"ETH","t":2016.974,"v":-2.894},{"coin":"ETH","t":2016.999,"v":-2.915},{"coin":"ETH","t":2017.023,"v":-2.935},{"coin":"ETH","t":2017.048,"v":-2.915},{"coin":"ETH","t":2017.072,"v":-2.927},{"coin":"ETH","t":2017.096,"v":-2.935},{"coin":"ETH","t":2017.121,"v":-2.935},{"coin":"ETH","t":2017.145,"v":-2.956},{"coin":"ETH","t":2017.170,"v":-3.059},{"coin":"ETH","t":2017.194,"v":-3.183},{"coin":"ETH","t":2017.218,"v":-3.203},{"coin":"ETH","t":2017.243,"v":-3.224},{"coin":"ETH","t":2017.267,"v":-3.265},{"coin":"ETH","t":2017.283,"v":-3.162},{"coin":"ETH","t":2017.308,"v":-3.183},{"coin":"ETH","t":2017.332,"v":-3.245},{"coin":"ETH","t":2017.357,"v":-3.327},{"coin":"ETH","t":2017.381,"v":-3.389},{"coin":"ETH","t":2017.405,"v":-3.451},{"coin":"ETH","t":2017.430,"v":-3.513},{"coin":"ETH","t":2017.454,"v":-3.595},{"coin":"ETH","t":2017.478,"v":-3.616},{"coin":"ETH","t":2017.503,"v":-3.616},{"coin":"ETH","t":2017.527,"v":-3.595},{"coin":"ETH","t":2017.552,"v":-3.575},{"coin":"ETH","t":2017.576,"v":-3.554},{"coin":"ETH","t":2017.600,"v":-3.533},{"coin":"ETH","t":2017.625,"v":-3.616},{"coin":"ETH","t":2017.649,"v":-3.628},{"coin":"ETH","t":2017.674,"v":-3.616},{"coin":"ETH","t":2017.698,"v":-3.595},{"coin":"ETH","t":2017.722,"v":-3.554},{"coin":"ETH","t":2017.747,"v":-3.546},{"coin":"ETH","t":2017.771,"v":-3.587},{"coin":"ETH","t":2017.796,"v":-3.616},{"coin":"ETH","t":2017.820,"v":-3.595},{"coin":"ETH","t":2017.844,"v":-3.637},{"coin":"ETH","t":2017.869,"v":-3.657},{"coin":"ETH","t":2017.893,"v":-3.719},{"coin":"ETH","t":2017.918,"v":-3.802},{"coin":"ETH","t":2017.942,"v":-3.884},{"coin":"ETH","t":2017.966,"v":-3.946},{"coin":"ETH","t":2017.991,"v":-4.028},{"coin":"ETH","t":2018.015,"v":-4.090},{"coin":"ETH","t":2018.039,"v":-4.090},{"coin":"ETH","t":2018.064,"v":-3.967},{"coin":"ETH","t":2018.088,"v":-3.905},{"coin":"ETH","t":2018.113,"v":-3.863},{"coin":"ETH","t":2018.137,"v":-3.822},{"coin":"ETH","t":2018.161,"v":-3.760},{"coin":"ETH","t":2018.186,"v":-3.740},{"coin":"ETH","t":2018.210,"v":-3.719},{"coin":"ETH","t":2018.235,"v":-3.698},{"coin":"ETH","t":2018.259,"v":-3.657},{"coin":"ETH","t":2018.283,"v":-3.595},{"coin":"ETH","t":2018.308,"v":-3.657},{"coin":"ETH","t":2018.332,"v":-3.719},{"coin":"ETH","t":2018.357,"v":-3.781},{"coin":"ETH","t":2018.373,"v":-3.637},{"coin":"ETH","t":2018.397,"v":-3.616},{"coin":"ETH","t":2018.422,"v":-3.616},{"coin":"ETH","t":2018.446,"v":-3.595},{"coin":"ETH","t":2018.470,"v":-3.587},{"coin":"ETH","t":2018.495,"v":-3.554},{"coin":"ETH","t":2018.519,"v":-3.533},{"coin":"ETH","t":2018.544,"v":-3.546},{"coin":"ETH","t":2018.568,"v":-3.562},{"coin":"ETH","t":2018.592,"v":-3.575},{"coin":"ETH","t":2018.617,"v":-3.562},{"coin":"ETH","t":2018.641,"v":-3.554},{"coin":"ETH","t":2018.665,"v":-3.554},{"coin":"ETH","t":2018.690,"v":-3.533},{"coin":"ETH","t":2018.714,"v":-3.505},{"coin":"ETH","t":2018.739,"v":-3.484},{"coin":"ETH","t":2018.763,"v":-3.492},{"coin":"ETH","t":2018.787,"v":-3.484},{"coin":"ETH","t":2018.812,"v":-3.472},{"coin":"ETH","t":2018.836,"v":-3.472},{"coin":"ETH","t":2018.861,"v":-3.463},{"coin":"ETH","t":2018.885,"v":-3.472},{"coin":"ETH","t":2018.909,"v":-3.459},{"coin":"ETH","t":2018.934,"v":-3.451},{"coin":"ETH","t":2018.958,"v":-3.443},{"coin":"ETH","t":2018.983,"v":-3.443},{"coin":"ETH","t":2019.007,"v":-3.430},{"coin":"ETH","t":2019.031,"v":-3.430},{"coin":"ETH","t":2019.088,"v":-3.410},{"coin":"ETH","t":2019.112,"v":-3.389},{"coin":"ETH","t":2019.137,"v":-3.410},{"coin":"ETH","t":2019.161,"v":-3.410},{"coin":"ETH","t":2019.185,"v":-3.422},{"coin":"ETH","t":2019.210,"v":-3.430},{"coin":"ETH","t":2019.234,"v":-3.422},{"coin":"ETH","t":2019.259,"v":-3.443},{"coin":"ETH","t":2019.283,"v":-3.439},{"coin":"ETH","t":2019.307,"v":-3.430},{"coin":"ETH","t":2019.332,"v":-3.463},{"coin":"ETH","t":2019.356,"v":-3.521},{"coin":"ETH","t":2019.380,"v":-3.554},{"coin":"ETH","t":2019.405,"v":-3.575},{"coin":"ETH","t":2019.429,"v":-3.587},{"coin":"ETH","t":2019.454,"v":-3.616},{"coin":"ETH","t":2019.478,"v":-3.595},{"coin":"ETH","t":2019.502,"v":-3.575},{"coin":"ETH","t":2019.527,"v":-3.533},{"coin":"ETH","t":2019.551,"v":-3.505},{"coin":"ETH","t":2019.576,"v":-3.492},{"coin":"ETH","t":2019.600,"v":-3.505},{"coin":"ETH","t":2019.624,"v":-3.513},{"coin":"ETH","t":2019.649,"v":-3.492},{"coin":"ETH","t":2019.673,"v":-3.472},{"coin":"ETH","t":2019.698,"v":-3.480},{"coin":"ETH","t":2019.722,"v":-3.463},{"coin":"ETH","t":2019.746,"v":-3.459},{"coin":"ETH","t":2019.771,"v":-3.451},{"coin":"ETH","t":2019.795,"v":-3.443},{"coin":"ETH","t":2019.819,"v":-3.451},{"coin":"ETH","t":2019.844,"v":-3.439},{"coin":"ETH","t":2019.868,"v":-3.430},{"coin":"ETH","t":2019.893,"v":-3.443},{"coin":"ETH","t":2019.909,"v":-3.381},{"coin":"ETH","t":2019.933,"v":-3.430},{"coin":"ETH","t":2019.958,"v":-3.410},{"coin":"ETH","t":2019.982,"v":-3.389},{"coin":"ETH","t":2020.006,"v":-3.397},{"coin":"ETH","t":2020.031,"v":-3.410},{"coin":"ETH","t":2020.055,"v":-3.443},{"coin":"ETH","t":2020.080,"v":-3.463},{"coin":"ETH","t":2020.104,"v":-3.484},{"coin":"ETH","t":2020.128,"v":-3.513},{"coin":"ETH","t":2020.153,"v":-3.533},{"coin":"ETH","t":2020.177,"v":-3.513},{"coin":"ETH","t":2020.202,"v":-3.521},{"coin":"ETH","t":2020.226,"v":-3.533},{"coin":"ETH","t":2020.250,"v":-3.521},{"coin":"ETH","t":2020.275,"v":-3.546},{"coin":"ETH","t":2020.299,"v":-3.575},{"coin":"ETH","t":2020.324,"v":-3.575},{"coin":"ETH","t":2020.348,"v":-3.575},{"coin":"ETH","t":2020.372,"v":-3.587},{"coin":"ETH","t":2020.397,"v":-3.604},{"coin":"ETH","t":2020.421,"v":-3.616},{"coin":"ETH","t":2020.446,"v":-3.595},{"coin":"ETH","t":2020.462,"v":-3.575},{"coin":"ETH","t":2020.486,"v":-3.616},{"coin":"ETH","t":2020.511,"v":-3.637},{"coin":"ETH","t":2020.535,"v":-3.637},{"coin":"ETH","t":2020.559,"v":-3.657},{"coin":"ETH","t":2020.584,"v":-3.670},{"coin":"ETH","t":2020.608,"v":-3.657},{"coin":"ETH","t":2020.632,"v":-3.637},{"coin":"ETH","t":2020.657,"v":-3.616},{"coin":"ETH","t":2020.681,"v":-3.595},{"coin":"ETH","t":2020.698,"v":-3.575},{"coin":"ETH","t":2020.714,"v":-3.595},{"coin":"ETH","t":2020.730,"v":-3.678},{"coin":"ETH","t":2020.746,"v":-3.595},{"coin":"ETH","t":2020.762,"v":-3.533},{"coin":"ETH","t":2020.779,"v":-3.678},{"coin":"ETH","t":2020.803,"v":-3.657},{"coin":"ETH","t":2020.828,"v":-3.637},{"coin":"ETH","t":2020.852,"v":-3.616},{"coin":"ETH","t":2020.876,"v":-3.637},{"coin":"ETH","t":2020.901,"v":-3.698}
]},
"mark":{"type":"line","strokeWidth":5.5,"strokeJoin":"round","strokeCap":"round","clip":true},
"encoding":{
"x":{"field":"t","type":"quantitative","sort":null,"scale":{"domain":[2008.532,2021.385],"nice":false,"zero":false},"axis":{"values":[2010,2012,2014,2016,2018,2020],"format":"d","title":"Date","labelPadding":30,"titlePadding":48}},
"y":{"field":"v","type":"quantitative","scale":{"domain":[-6.245,0.241],"nice":false,"zero":false},"axis":{"values":[-6,-4,-2,0],"labelExpr":"datum.value == 0 ? '1e+00' : '1e-0' + (-datum.value)","labelAngle":-90,"labelAlign":"center","labelBaseline":"bottom","labelPadding":26,"title":"Ncore/N","titleFontSize":62,"titlePadding":50}},
"color":{"field":"coin","type":"nominal","scale":{"domain":["BTC","LTC","DOGE","BCH","FTC","MONA","ETH"],"range":["#000000","#0029A6","#FFE000","#2C8062","#E0622A","#8DC14B","#0F86A1"]},
"legend":{"orient":"none","legendX":101,"legendY":602,"title":null,"columns":4,"gridAlign":"all","padding":0,"symbolType":"M-4,0L4,0","symbolSize":1225,"symbolStrokeWidth":5.5,"labelFont":"Open Sans","labelFontSize":68,"labelColor":"black","labelOffset":106,"columnPadding":61,"rowPadding":22,"labelLimit":0,"encode":{"symbols":{"update":{"strokeCap":{"value":"round"}}}}}}
}
}
